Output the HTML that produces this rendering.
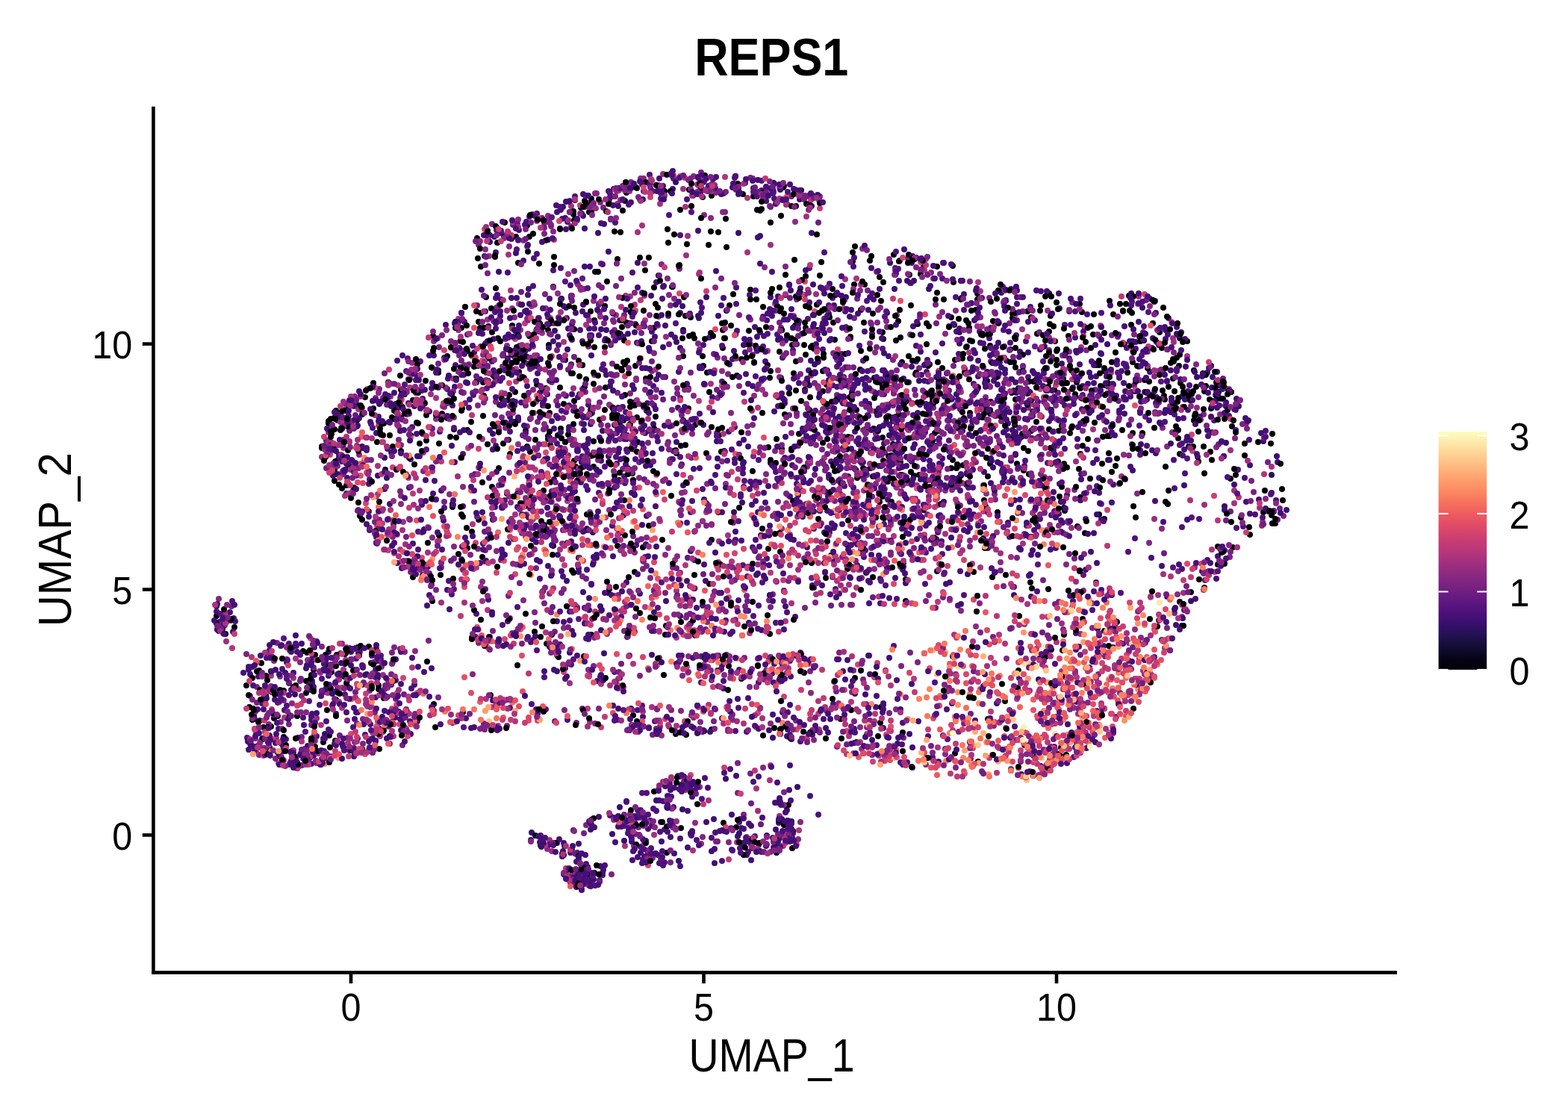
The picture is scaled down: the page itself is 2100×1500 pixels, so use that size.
<!DOCTYPE html>
<html><head><meta charset="utf-8"><title>REPS1</title>
<style>html,body{margin:0;padding:0;background:#fff;}svg{display:block;}</style>
</head><body>
<svg width="2100" height="1500" viewBox="0 0 2100 1500">
<defs><linearGradient id="cb" x1="0" y1="1" x2="0" y2="0"><stop offset="0.000" stop-color="#000004"/><stop offset="0.050" stop-color="#06051a"/><stop offset="0.100" stop-color="#140e36"/><stop offset="0.150" stop-color="#251255"/><stop offset="0.200" stop-color="#3b0f70"/><stop offset="0.250" stop-color="#51127c"/><stop offset="0.300" stop-color="#641a80"/><stop offset="0.350" stop-color="#782281"/><stop offset="0.400" stop-color="#8c2981"/><stop offset="0.450" stop-color="#a1307e"/><stop offset="0.500" stop-color="#b73779"/><stop offset="0.550" stop-color="#ca3e72"/><stop offset="0.600" stop-color="#de4968"/><stop offset="0.650" stop-color="#ed5a5f"/><stop offset="0.700" stop-color="#f7705c"/><stop offset="0.750" stop-color="#fc8961"/><stop offset="0.800" stop-color="#fe9f6d"/><stop offset="0.850" stop-color="#feb77e"/><stop offset="0.900" stop-color="#fecf92"/><stop offset="0.950" stop-color="#fde7a9"/><stop offset="1.000" stop-color="#fcfdbf"/></linearGradient></defs>
<rect width="2100" height="1500" fill="#fff"/>
<g fill="none" stroke-width="8" stroke-linecap="round">
<path stroke="#400f74" d="M764 640h0M665 502h0M454 609h0M507 558h0M1039 651h0M1295 598h0M1048 891h0M1220 568h0M1050 792h0M969 922h0M1177 660h0M480 875h0M958 740h0M680 482h0M787 1161h0M738 771h0M301 837h0M1117 707h0M1264 352h0M1104 393h0M839 1073h0M1043 644h0M734 321h0M988 936h0M916 1050h0M1295 464h0M1090 787h0M1528 538h0M871 258h0M747 451h0M1723 683h0M1653 649h0M721 532h0M1292 494h0M953 647h0M437 927h0M838 256h0M1183 975h0M1315 542h0M714 857h0M766 528h0M901 253h0M691 339h0M1087 312h0M568 709h0M1238 875h0M1361 526h0M685 320h0M1149 589h0M875 568h0M599 521h0M812 502h0M647 728h0M1165 981h0M1628 529h0M430 1024h0M1051 613h0M711 1125h0M486 894h0M387 915h0M703 471h0M902 604h0M754 625h0M768 850h0M1074 639h0M1399 652h0M1046 506h0M1071 267h0M566 581h0M559 966h0M1190 504h0M1238 510h0M1167 743h0M775 761h0M1337 459h0M1164 878h0M653 457h0M763 874h0M529 961h0M450 956h0M1184 641h0M1015 768h0M695 308h0M411 891h0M1353 988h0M1516 886h0M1304 689h0M450 998h0M791 1111h0M602 816h0M1228 722h0M705 416h0M1236 601h0M442 895h0M474 540h0M691 444h0M857 267h0M1128 538h0M468 1005h0M685 399h0M774 1169h0M1118 704h0M803 1179h0M1203 594h0M1058 944h0M1341 392h0M683 558h0M384 887h0M1351 444h0M1346 527h0M1375 581h0M1088 784h0M1106 625h0M1674 623h0M1045 1122h0M1310 504h0M1015 686h0M1067 461h0M1155 508h0M496 947h0M524 917h0M1025 903h0M858 1142h0M1381 799h0M880 983h0M369 994h0M713 669h0M977 488h0M1338 531h0M783 277h0M763 664h0M681 727h0M1143 506h0M1548 419h0M1540 498h0M1052 585h0M1646 557h0M839 780h0M1368 1037h0M1711 619h0M1221 491h0M527 702h0"/>
<path stroke="#762181" d="M845 244h0M747 870h0M1085 899h0M834 628h0M779 567h0M1508 488h0M540 973h0M836 1095h0M1271 921h0M913 556h0M729 305h0M885 259h0M782 1116h0M847 629h0M1167 734h0M1224 734h0M644 464h0M1343 520h0M1596 528h0M1156 910h0M1012 261h0M708 588h0M890 262h0M751 657h0M1107 952h0M1371 980h0M1326 588h0M1185 606h0M1495 960h0M808 278h0M1468 908h0M857 1095h0M365 926h0M598 705h0M591 753h0M1379 1033h0M1116 742h0M1077 267h0M1107 749h0M1057 556h0M958 654h0M304 832h0M916 1047h0M940 846h0M1232 708h0M1315 1033h0M1235 611h0M1520 458h0M1257 566h0M1144 966h0M1542 904h0M335 932h0M1402 543h0M347 1011h0M1097 676h0M693 623h0M539 998h0M1418 806h0M508 521h0M1045 886h0M518 965h0M760 637h0M1259 626h0M1083 262h0M482 873h0M310 812h0M966 373h0M922 1051h0"/>
<path stroke="#000004" d="M1322 510h0M1323 963h0M1159 575h0M1052 368h0M1276 879h0M706 657h0M612 433h0M572 886h0M1336 686h0M1255 765h0M1383 697h0M1510 499h0M1445 628h0M710 605h0M608 575h0M1474 517h0M1599 563h0M669 542h0M356 931h0M1182 445h0M694 480h0M1447 666h0M1466 487h0M388 958h0M606 675h0M1047 442h0M1307 415h0M1456 546h0M741 384h0M1036 245h0M915 442h0M825 786h0M1413 457h0M876 574h0M1571 507h0M1171 506h0M1302 866h0M339 949h0M1158 381h0M833 496h0M1418 577h0M514 935h0M1530 580h0M569 540h0M686 436h0M618 439h0M1365 825h0M666 306h0M1363 921h0M963 583h0M367 962h0M460 1001h0M626 470h0M1208 537h0M620 458h0M1057 520h0M1436 571h0M1516 419h0M1517 580h0M500 547h0M690 525h0M1079 439h0M968 466h0M946 607h0M706 302h0M558 566h0M1022 411h0M703 678h0M993 909h0M1266 510h0M691 317h0M646 646h0M839 258h0M1564 675h0M827 731h0M824 817h0M1034 387h0M592 554h0M732 862h0M555 622h0M1309 521h0M1169 638h0M1540 829h0M796 465h0M752 400h0M1464 448h0M1532 456h0M755 1145h0M1302 457h0M1329 773h0M792 266h0M1249 539h0M626 734h0M1621 605h0M792 284h0M659 652h0M1173 693h0M1040 1142h0M638 512h0M845 949h0M926 276h0M1708 701h0M1472 489h0M923 254h0M602 561h0M988 246h0M485 1003h0M438 1011h0M632 712h0M1539 511h0M444 900h0M1196 564h0M1184 723h0M1244 437h0M1369 581h0M1135 762h0M639 319h0M869 345h0M709 450h0M1135 730h0M775 483h0M1153 415h0M632 854h0M1384 574h0M694 561h0M1102 524h0M433 994h0M439 891h0M1316 559h0M1326 621h0M1118 455h0M722 353h0M724 1132h0M1095 442h0M1113 744h0M644 419h0M1173 551h0M553 536h0M374 1013h0M1047 601h0M1318 670h0M505 592h0M1108 588h0M952 446h0M1479 497h0M1706 685h0M1450 829h0M922 547h0M562 594h0M1281 510h0M735 462h0M441 985h0M970 453h0M862 416h0M890 256h0M1168 495h0M953 262h0M1519 470h0M565 579h0M485 696h0M789 272h0M554 764h0M1061 462h0M845 252h0M468 624h0M1288 399h0M340 959h0M1356 586h0M1435 573h0M990 680h0M1039 1134h0M766 764h0M1581 513h0M1243 490h0M915 477h0M675 316h0M1128 566h0M1107 515h0M835 426h0M682 529h0M786 262h0M1674 716h0M442 630h0M1066 484h0M1368 585h0M847 634h0M1183 454h0M1330 430h0M1181 511h0M853 252h0M953 723h0M1423 871h0M1565 518h0M1715 621h0M559 538h0M1404 789h0M737 596h0M1371 630h0M842 843h0M882 369h0M460 594h0M1196 641h0M550 583h0M449 992h0M1491 421h0M1180 624h0M823 569h0M1355 526h0M1181 753h0M1157 432h0M699 677h0M1546 573h0M1651 733h0M1415 470h0M398 959h0M1008 806h0M1580 475h0M522 542h0M466 920h0M1145 908h0M876 385h0M350 888h0M1276 616h0M1144 381h0M1251 647h0M831 311h0M508 1003h0M410 912h0M571 590h0M812 283h0M1056 1078h0M363 973h0M1496 833h0M1151 761h0M1145 681h0M450 959h0M1527 531h0M889 904h0M477 541h0M1405 575h0M556 969h0M769 441h0M985 448h0"/>
<path stroke="#56147d" d="M1438 1014h0M687 301h0M1113 618h0M313 828h0M608 789h0M1080 675h0M818 462h0M1423 538h0M546 480h0M534 546h0M989 698h0M808 488h0M1121 491h0M902 239h0M1182 467h0M1020 242h0M760 1176h0M931 1058h0M1352 719h0M775 829h0M987 763h0M1450 534h0"/>
<path stroke="#f56b5c" d="M1427 809h0M1268 906h0M507 679h0"/>
<path stroke="#a5317e" d="M947 253h0M1438 499h0M1096 518h0M770 810h0M835 920h0M442 920h0M1028 470h0M1590 477h0M506 624h0M936 844h0M517 935h0M906 791h0M1104 613h0M1080 290h0M1164 968h0M832 818h0M1274 709h0M978 660h0M1092 738h0M472 658h0M1452 437h0M994 629h0M765 276h0M1124 481h0M1331 654h0M436 927h0M506 662h0M1560 868h0M641 626h0M1292 499h0M1367 510h0M1402 710h0M1551 497h0M490 937h0M1517 470h0M511 963h0"/>
<path stroke="#331067" d="M435 983h0M794 713h0"/>
<path stroke="#4e117b" d="M752 550h0M1325 453h0M1535 901h0M402 877h0M398 1021h0M636 635h0M1212 640h0M1672 563h0M995 757h0M1271 563h0M816 267h0M729 907h0M826 580h0M595 680h0M978 849h0M933 1125h0M767 712h0M557 526h0M664 399h0M703 301h0M1021 780h0M620 608h0M1044 884h0M825 612h0M1365 908h0M788 611h0M1475 419h0M1347 403h0M1201 569h0M1412 1000h0M1082 571h0M1159 737h0M757 895h0M691 706h0M1407 736h0M941 811h0M1262 373h0M938 259h0M443 980h0M1062 469h0M736 400h0M691 664h0M311 805h0M753 293h0M967 463h0M887 1156h0M882 794h0M941 655h0M996 652h0M1385 710h0M1312 444h0M1289 376h0M785 405h0M1393 695h0M1054 820h0M1489 516h0M834 584h0M1082 622h0M839 602h0M987 443h0M872 1136h0M550 615h0M937 895h0M510 883h0M911 1123h0M1681 689h0M861 1151h0M1164 509h0M646 447h0M1139 774h0M847 424h0M846 971h0M763 694h0M448 996h0M851 615h0M1475 696h0M552 572h0M499 573h0M379 999h0M751 650h0M1110 420h0M1042 1139h0M1020 255h0M981 1139h0M996 526h0M570 762h0M1521 467h0M1284 624h0M1070 430h0M1482 497h0M1010 486h0M471 568h0M1591 524h0M739 872h0M545 953h0M795 606h0M757 909h0M1249 1014h0M1297 653h0M1262 460h0M1062 1116h0M905 433h0"/>
<path stroke="#e55064" d="M1153 763h0M1086 724h0M1238 1008h0M1404 866h0M534 555h0M985 608h0M1124 533h0M1396 935h0M1484 927h0M677 938h0M598 710h0M873 723h0M1055 663h0M1049 887h0"/>
<path stroke="#7c2382" d="M935 460h0M1424 714h0M1227 561h0M1447 1008h0M981 957h0M1250 373h0M1526 882h0M943 243h0M1341 564h0M859 566h0M1207 658h0M998 812h0M1537 471h0M1447 997h0M1567 544h0M1395 988h0M1188 684h0M773 379h0M736 499h0M1017 606h0M924 785h0M1134 757h0M682 633h0M1196 482h0M1242 689h0M850 846h0M1647 746h0M1439 656h0M513 533h0M1200 620h0M1395 574h0M1124 874h0M408 1003h0M1612 555h0M844 527h0M1461 933h0M911 684h0M733 296h0M1147 630h0M904 583h0M519 921h0M641 328h0M640 735h0M522 996h0M1097 268h0M740 870h0M873 497h0M789 904h0M1148 677h0M1125 628h0M1444 949h0M742 724h0M706 427h0M782 1170h0M850 627h0M1083 590h0M854 724h0M1455 660h0M1352 433h0M1164 659h0M1407 1000h0M1078 262h0M1026 898h0M581 952h0M1277 709h0M1281 652h0M1279 507h0M1222 668h0M1165 460h0M741 693h0M1493 838h0M799 636h0M1555 495h0M1314 698h0M1038 604h0M1455 469h0M809 531h0M496 990h0M1044 505h0M1007 896h0M996 1134h0M1552 539h0M828 797h0"/>
<path stroke="#471078" d="M751 600h0M558 581h0M1547 671h0M1233 448h0M332 993h0M346 906h0M1419 648h0M1036 914h0M699 675h0M1083 647h0M957 949h0M886 526h0M1440 452h0M783 814h0M489 984h0M1314 576h0M1639 611h0M861 972h0M333 1004h0M762 572h0M1083 496h0M1173 947h0M437 590h0M355 930h0M1020 844h0M1424 923h0M850 1093h0M791 568h0M1354 675h0M868 1110h0M1058 1025h0M1222 1028h0M419 863h0M720 956h0M1277 434h0M1030 882h0M1002 935h0M591 657h0M1339 551h0M1246 383h0M1183 649h0M788 588h0M1703 660h0M1252 373h0M418 912h0M943 756h0M1543 466h0M909 498h0M993 724h0M308 820h0M1589 590h0M1514 531h0M1245 542h0M847 1152h0M1058 1118h0M1254 722h0M852 730h0M980 1091h0M291 843h0M1195 610h0M807 1172h0M1339 485h0M1626 563h0M808 1165h0M496 548h0M801 685h0M1576 438h0M314 810h0M1315 399h0M764 382h0M1442 940h0M1021 1095h0M1362 389h0M551 764h0M858 1134h0M747 613h0M691 847h0M1046 640h0M550 983h0M1058 247h0M503 934h0M1591 549h0M550 754h0M1306 965h0M879 378h0M1567 871h0M908 546h0M1061 1123h0M586 617h0M1617 499h0M1506 437h0M547 508h0M1227 463h0M1217 715h0M534 953h0M749 1124h0M1638 518h0M1451 444h0M1026 269h0M876 543h0M703 417h0M1083 573h0M1169 692h0M901 229h0M1148 729h0M1345 464h0M873 800h0M830 908h0M792 1104h0M1106 560h0M1274 535h0M677 566h0M475 963h0M1067 648h0M1061 1122h0M746 635h0M875 577h0M1536 535h0M1002 514h0M1055 977h0M1076 642h0M1621 754h0M1058 665h0M1113 454h0M481 524h0M464 954h0M361 871h0M976 725h0M1249 546h0M1447 434h0M832 1107h0M829 601h0M556 501h0M1042 532h0M680 365h0M695 436h0M838 622h0M986 385h0M1502 497h0M815 649h0M1049 768h0M566 770h0M928 824h0M609 469h0M920 267h0M1456 602h0M592 736h0M785 1182h0M1177 624h0M326 901h0M1467 462h0M1408 690h0M1393 505h0M1300 480h0M967 686h0M637 853h0M824 1128h0M775 598h0M768 550h0M670 430h0M938 405h0M481 871h0M1000 980h0M1027 748h0M707 395h0M950 452h0M452 563h0M1305 527h0M1411 603h0M1163 778h0M846 660h0M792 450h0M1454 763h0M981 481h0M1053 1117h0M811 426h0M775 766h0"/>
<path stroke="#c03a76" d="M700 746h0M1295 500h0M1119 745h0M1142 676h0M1627 766h0M1044 913h0M512 701h0M690 454h0M1524 871h0M1486 788h0M666 943h0M1474 544h0M797 522h0M507 570h0M1282 913h0M532 716h0M1398 928h0M548 938h0M1036 258h0M1386 805h0M385 865h0M705 715h0M1489 956h0M1438 930h0M1039 746h0M797 819h0M1252 679h0M810 960h0M506 966h0"/>
<path stroke="#d3436e" d="M1509 877h0M827 917h0M706 625h0M502 519h0M545 741h0M1364 887h0M601 717h0M1221 725h0M915 850h0M690 769h0M1523 828h0M1482 504h0M1546 843h0M1400 1033h0M879 636h0M1479 873h0M1429 1003h0M1196 576h0M1124 682h0M488 617h0M1493 924h0M1200 652h0"/>
<path stroke="#d9466b" d="M1561 816h0M565 747h0M1308 692h0M532 565h0M438 602h0M1435 775h0M538 535h0M1329 910h0M676 856h0M1409 1025h0M755 701h0M1257 864h0M1415 597h0M491 633h0M1335 786h0M868 1159h0M1494 963h0M1134 979h0M911 236h0M873 801h0M1219 739h0M1301 1000h0"/>
<path stroke="#fec185" d="M655 966h0"/>
<path stroke="#e04c67" d="M695 946h0M1518 855h0M1091 417h0M525 949h0M973 743h0M700 926h0M1250 962h0M1391 993h0M542 974h0M1493 845h0M1205 736h0M632 477h0M921 841h0M631 928h0"/>
<path stroke="#892881" d="M740 704h0M769 712h0M1067 557h0M1240 1024h0M937 1054h0M700 477h0M511 893h0M1583 826h0M618 469h0M939 1130h0M663 511h0M643 323h0M1141 810h0M523 514h0M1235 637h0M699 714h0M1045 907h0M1266 1010h0M1415 561h0M758 664h0M1251 728h0M724 709h0M903 511h0M731 413h0M1086 928h0M1182 524h0M929 236h0M733 1137h0M1191 761h0M953 911h0M803 520h0M1121 482h0M858 239h0"/>
<path stroke="#390f6e" d="M712 1115h0M385 905h0M1383 497h0M1323 734h0M1075 692h0M1710 611h0M1159 516h0M767 660h0M1156 639h0M988 1120h0M838 415h0M1264 672h0M1202 538h0M759 426h0M1210 507h0M1442 472h0M1391 910h0M972 1043h0M676 490h0M990 1116h0M702 506h0M1358 797h0M687 451h0M888 465h0M414 887h0M1653 548h0M915 650h0M742 642h0M1178 572h0M710 561h0M1104 446h0M1530 412h0M943 881h0M1483 461h0M792 565h0M713 722h0M359 1002h0M1202 996h0M1410 668h0"/>
<path stroke="#902a81" d="M745 537h0M1085 620h0M1321 661h0M1603 546h0M1222 682h0M844 1090h0M704 719h0M1080 541h0M791 611h0M523 531h0M825 422h0M1438 948h0"/>
<path stroke="#b2357b" d="M833 737h0M1290 606h0M653 817h0M1335 1035h0M337 880h0M1143 1009h0M555 750h0M1380 526h0M1349 626h0M1177 799h0M1454 981h0M1038 407h0M507 983h0M954 884h0M1192 510h0M1099 794h0M1052 832h0M1234 750h0M1070 1112h0"/>
<path stroke="#9e2f7f" d="M917 659h0M899 1041h0M1452 914h0M646 805h0M831 737h0M912 550h0M904 750h0M1691 699h0M1671 617h0M429 901h0M1185 749h0M1032 328h0M1657 733h0M1440 934h0M1286 521h0M718 538h0M1425 496h0M1092 658h0M1584 545h0M504 868h0M742 321h0M1193 703h0M714 464h0M1127 946h0M726 446h0M598 718h0M564 542h0M1228 650h0M1143 797h0M793 565h0M1053 674h0M696 700h0M613 638h0M808 744h0M360 973h0M1047 708h0"/>
<path stroke="#832681" d="M1432 471h0M451 617h0M849 1133h0M649 752h0M1161 636h0M677 454h0M711 560h0M1396 579h0M647 475h0M862 239h0M1258 652h0M1629 599h0M1115 773h0M1457 941h0M1086 443h0M1546 504h0M461 906h0M668 650h0M681 312h0M1515 562h0M597 519h0M846 633h0M804 271h0M1165 965h0M363 919h0M1152 618h0M1213 934h0M376 967h0M1191 601h0M1236 701h0M1002 759h0M1084 563h0M675 537h0M640 543h0M1278 564h0M849 602h0M601 536h0M1201 422h0M466 988h0M362 924h0M1280 416h0M947 648h0M780 521h0M755 789h0M1500 928h0M990 609h0M1110 558h0M1262 418h0M1333 487h0M848 732h0M896 395h0M876 790h0M1098 642h0M1217 647h0M1332 662h0M1213 707h0M342 989h0M293 802h0M1416 500h0M1299 724h0"/>
<path stroke="#f9795d" d="M1498 901h0M1299 930h0M1454 895h0M1448 958h0M735 708h0M1485 910h0M1490 922h0M1424 964h0"/>
<path stroke="#6e1e81" d="M836 580h0M704 543h0M1143 492h0M1420 534h0M648 969h0M951 883h0M1358 919h0M359 1010h0M986 254h0M795 273h0M541 930h0M1386 464h0M1365 499h0M1118 570h0M788 1173h0M883 369h0M907 797h0M639 409h0M1283 730h0M1096 484h0M958 950h0M741 433h0M876 792h0M508 976h0M803 1181h0M1020 717h0M1378 719h0M1159 588h0M1497 451h0"/>
<path stroke="#982d80" d="M1396 890h0M888 233h0M456 565h0M1137 757h0M1447 849h0M1068 692h0M525 951h0M1043 878h0M1571 453h0M1161 507h0M1432 493h0M963 725h0M776 597h0M1132 569h0M729 535h0"/>
<path stroke="#681c81" d="M1019 1104h0M1416 829h0M1177 610h0M1443 598h0M740 813h0M1141 759h0M945 843h0M1463 534h0M1417 526h0M703 619h0M649 712h0M1563 511h0"/>
<path stroke="#ab337c" d="M1297 976h0M544 976h0M845 794h0M441 1013h0M1276 546h0M842 1108h0M1193 979h0M668 409h0M1082 388h0M720 639h0M1520 909h0M861 603h0M694 322h0M534 955h0M391 1016h0M944 906h0M691 511h0M712 742h0M1137 986h0M664 976h0M1097 977h0M814 284h0M1257 676h0M588 724h0M753 749h0M460 630h0M1065 254h0M355 874h0M705 689h0M1321 570h0M848 643h0M1313 760h0"/>
<path stroke="#fec88c" d="M1357 964h0M1411 1003h0"/>
<path stroke="#cd4071" d="M1184 1011h0M1396 1033h0M835 815h0M1375 982h0M878 785h0M1106 732h0M924 811h0"/>
<path stroke="#ee5b5e" d="M1177 1009h0M1276 503h0M888 659h0M1397 674h0M631 657h0M734 714h0M1427 960h0M921 901h0"/>
<path stroke="#ea5661" d="M708 535h0M1418 950h0M807 671h0M1464 983h0M1463 980h0M921 713h0M484 585h0M1403 955h0M1480 988h0M1150 1014h0M1272 889h0M861 682h0M1402 914h0M764 645h0M762 682h0M1446 838h0M1541 800h0M1430 820h0M997 790h0M868 895h0M726 702h0"/>
<path stroke="#fc8961" d="M1524 923h0M1167 943h0M899 886h0M1395 710h0M1527 911h0M1433 874h0M1438 839h0M1402 1032h0M878 768h0M1272 894h0M997 826h0M1531 824h0M1192 1005h0"/>
<path stroke="#c73d73" d="M526 626h0M416 855h0M1064 774h0M983 693h0M1432 921h0M947 816h0M1373 922h0M1093 742h0M756 757h0M442 609h0M1105 747h0M1508 952h0M930 844h0M1126 767h0M962 774h0M505 704h0M520 737h0M1436 813h0M1597 604h0M724 665h0"/>
<path stroke="#ba3878" d="M836 819h0M1204 730h0M1224 909h0M921 551h0M1459 974h0M1247 658h0M1403 994h0M1032 767h0M1126 648h0M1258 755h0M1339 699h0M632 556h0M1131 768h0M1086 554h0M903 783h0M988 773h0M521 973h0M504 665h0M1365 545h0"/>
<path stroke="#fa815f" d="M1445 1007h0M879 799h0M1267 1019h0M923 800h0"/>
<path stroke="#621980" d="M1534 558h0"/>
<path stroke="#f7725c" d="M1283 677h0M1410 925h0M1387 892h0M596 953h0M1280 1020h0M1040 652h0M1364 1029h0M1328 902h0"/>
<path stroke="#f2625d" d="M1355 956h0M1302 892h0M555 966h0M604 466h0M700 840h0M1023 774h0M1427 919h0"/>
<path stroke="#fea973" d="M1306 980h0M1514 814h0"/>
<path stroke="#fd9a6a" d="M478 901h0M1449 960h0M931 788h0M1019 688h0M1359 659h0"/>
<path stroke="#fd9266" d="M1055 710h0M1321 994h0M1377 909h0M1562 865h0"/>
<path stroke="#feb078" d="M689 638h0M1266 873h0M1249 871h0"/>
<path stroke="#fecf92" d="M1412 1016h0"/>
<path stroke="#fea16e" d="M1457 990h0M492 956h0"/>
<path stroke="#fde0a1" d="M1413 983h0"/>
<path stroke="#fde7a9" d="M1400 866h0"/>
<path stroke="#5c167f" d="M563 484h0"/>
<path stroke="#9e2f7f" d="M721 610h0M1422 899h0M829 694h0M593 544h0M1355 986h0M1338 557h0M1354 746h0M337 998h0M1335 713h0M644 786h0M759 618h0M1132 374h0M987 1128h0M953 703h0M1134 442h0M1379 925h0M861 751h0M746 878h0M711 717h0M1133 541h0M911 767h0M358 926h0M1357 954h0M1648 603h0M669 670h0M1525 397h0M439 928h0M675 676h0M1264 508h0M1185 1013h0M915 253h0M593 558h0"/>
<path stroke="#000004" d="M1401 477h0M689 566h0M1568 486h0M1225 347h0M941 806h0M381 1006h0M417 904h0M664 386h0M1718 670h0M1360 609h0M626 576h0M449 558h0M1088 262h0M1005 1124h0M918 423h0M1264 401h0M763 589h0M1385 1013h0M1457 588h0M1412 522h0M553 773h0M1480 516h0M962 686h0M952 310h0M1233 367h0M450 937h0M1087 587h0M775 747h0M1500 407h0M1045 977h0M702 485h0M1089 563h0M934 1077h0M886 1156h0M1146 661h0M1044 714h0M1110 423h0M1077 462h0M1142 350h0M1005 388h0M1182 601h0M1091 665h0M1050 249h0M380 925h0M1063 500h0M485 917h0M431 598h0M1477 545h0M1079 370h0M1250 641h0M611 586h0M1364 898h0M1377 604h0M969 1102h0M852 1131h0M536 541h0M358 911h0M931 569h0M560 526h0M648 530h0M1561 625h0M478 563h0M676 317h0M734 486h0M1145 628h0M1127 587h0M490 965h0M1257 577h0M746 433h0M580 450h0M876 439h0M1649 525h0M970 604h0M892 838h0M816 789h0M520 512h0M1378 635h0M1255 392h0M1237 683h0M507 918h0M1032 620h0M1292 499h0M1251 568h0M918 596h0M1090 467h0M767 500h0M1267 523h0M466 558h0M1147 994h0M1206 619h0M1580 608h0M810 465h0M707 337h0M835 563h0M1341 558h0M448 597h0M880 634h0M1324 986h0M1149 638h0M789 284h0M701 464h0M694 352h0M483 548h0M1648 641h0M1640 755h0M848 958h0M984 725h0M1633 510h0M1355 508h0M1486 584h0M1301 571h0M728 657h0M1279 1009h0M1479 563h0M467 624h0M508 672h0M500 513h0M356 933h0M791 549h0M1018 1140h0M479 867h0M1572 484h0M1195 760h0M827 347h0M1231 636h0M778 278h0M1405 393h0M822 555h0M1416 468h0M1245 652h0M1468 489h0M620 692h0M1560 535h0M1156 731h0M641 431h0M1015 891h0M823 263h0M422 877h0M1585 838h0M912 1109h0M837 717h0M1137 756h0M420 897h0M727 792h0M1197 341h0M1404 518h0M1458 548h0M1073 255h0M653 595h0M1327 538h0M680 536h0M568 539h0M1252 580h0M1050 1115h0M1530 581h0M1152 495h0M771 625h0M1441 652h0M1108 725h0M717 589h0M719 515h0M695 498h0M1544 433h0M1094 408h0M440 564h0M314 840h0M1277 378h0M1613 524h0M679 661h0M1460 864h0M1251 720h0M1592 598h0M681 589h0M531 552h0M1703 690h0M755 541h0M1408 621h0M1578 587h0M811 519h0M1421 672h0M1326 447h0M1320 509h0M527 544h0M1448 533h0M668 627h0M683 608h0M1102 497h0M1512 396h0M1446 407h0M1010 485h0M431 600h0M1472 689h0M454 902h0M953 977h0M1360 466h0M442 1001h0M920 1044h0M1506 461h0M1308 819h0M796 429h0M608 534h0M865 244h0M1173 511h0M795 591h0M676 298h0M1116 624h0M993 481h0M848 643h0M1041 410h0M742 344h0M884 376h0M1309 401h0M1521 693h0M905 983h0M620 954h0M698 480h0M783 518h0M444 631h0M1180 513h0M1685 592h0M1575 546h0M1364 1027h0M1421 1001h0M1175 512h0M1301 934h0M1443 705h0M835 485h0M1191 640h0M1104 427h0M843 433h0M1081 510h0M1091 576h0M537 604h0M955 450h0M1382 788h0M829 643h0M474 653h0M1065 455h0M989 252h0M1600 557h0M1440 528h0M1165 349h0M1580 453h0"/>
<path stroke="#4e117b" d="M796 440h0M1619 770h0M998 245h0M873 1106h0M302 829h0M1180 508h0M670 508h0M827 964h0M848 647h0M865 1126h0M1266 598h0M709 643h0M836 638h0M1291 797h0M880 949h0M1388 542h0M661 496h0M1191 569h0M1526 451h0M1168 447h0M910 238h0M1020 1141h0M692 334h0M913 622h0M1319 513h0M1011 1120h0M566 544h0M1309 518h0M1108 496h0M733 528h0M1583 594h0M1247 563h0M666 978h0M1012 645h0M1504 862h0M1243 678h0M1284 474h0M387 862h0M1255 570h0M1390 538h0M1199 359h0M1259 647h0M1155 595h0M1034 255h0M981 846h0M1130 585h0M765 678h0M932 259h0M1160 633h0M1214 639h0M406 961h0M1150 587h0M980 1138h0M507 538h0M1058 1127h0M1446 504h0M1072 874h0M1405 1021h0M715 707h0M1186 784h0M942 462h0M522 542h0M504 870h0M404 1025h0M1110 501h0M970 1113h0M871 1099h0M648 315h0M1656 707h0M1509 466h0M1243 511h0M1283 811h0M372 941h0M745 509h0M763 449h0M768 658h0M1583 706h0M927 671h0M1389 544h0M810 625h0M727 413h0M995 634h0M1039 632h0M557 509h0"/>
<path stroke="#471078" d="M1093 978h0M396 862h0M1354 617h0M670 423h0M777 1184h0M1472 660h0M1237 629h0M420 1012h0M1400 655h0M1016 1040h0M1012 671h0M1450 517h0M840 560h0M1184 528h0M1015 241h0M1033 422h0M711 860h0M489 904h0M1525 491h0M880 585h0M1617 750h0M1431 991h0M1076 646h0M949 249h0M620 526h0M565 753h0M1316 542h0M755 410h0M1051 909h0M1344 635h0M1669 672h0M1159 580h0M1330 718h0M1133 714h0M629 579h0M1380 411h0M1032 398h0M1549 532h0M582 644h0M746 594h0M999 501h0M863 1100h0M789 1186h0M1291 539h0M927 1067h0M1279 693h0M407 1008h0M1156 619h0M680 832h0M1479 949h0M851 1103h0M1432 417h0M1151 463h0M1003 1103h0M1234 573h0M1015 842h0M796 1108h0M1206 700h0M608 466h0M1257 512h0M1302 584h0M842 1113h0M565 676h0M682 699h0M815 256h0M1090 585h0M765 1173h0M985 253h0M703 690h0M1468 780h0M720 500h0M1025 484h0M985 723h0M805 617h0M454 613h0M760 964h0M1029 910h0M496 970h0M1078 576h0M1343 479h0M1457 535h0M977 772h0M802 1094h0M731 636h0M957 1137h0M781 408h0M1128 383h0M569 522h0M656 315h0M1182 954h0M879 1086h0M626 448h0M797 432h0M1573 555h0M1199 648h0M635 472h0M1644 521h0M783 1175h0M1092 972h0M868 1142h0M1122 575h0M1057 1058h0M631 975h0M791 1173h0M633 718h0M418 882h0M299 848h0M719 286h0M1207 742h0M368 937h0M1241 498h0M827 574h0M1143 357h0M1174 998h0M854 1148h0M1548 540h0M916 1040h0M1285 440h0M765 725h0M560 761h0M1433 798h0M1097 454h0M1090 708h0M831 615h0M1170 401h0M1229 553h0M530 911h0M1374 457h0M762 543h0M1227 484h0M713 492h0M831 576h0M1601 802h0M424 986h0M1157 746h0M597 435h0M1533 525h0M1018 353h0M1058 688h0M718 950h0M966 808h0M1063 253h0M1491 649h0M1178 444h0M1582 445h0M1390 502h0M1054 453h0M1052 456h0M903 1055h0M810 1159h0M1190 477h0M568 900h0M1111 380h0M421 904h0M1359 670h0M1041 1048h0M391 1006h0M1607 558h0M1221 352h0M1104 713h0M933 814h0M1378 771h0M355 938h0M1326 616h0M572 811h0M992 665h0M822 253h0M1674 688h0M656 853h0M1695 577h0M1078 513h0M845 560h0M701 349h0M1284 640h0M1058 984h0M719 484h0M609 518h0M909 887h0M1022 424h0M377 864h0"/>
<path stroke="#56147d" d="M1234 346h0M1127 474h0M1271 590h0M823 900h0M1147 591h0M958 879h0M1127 617h0M1186 503h0M1133 438h0M864 608h0M863 437h0M1403 620h0M1197 865h0M1087 574h0M723 660h0M676 494h0M331 988h0M1538 418h0M731 950h0M932 561h0M1343 384h0M1590 614h0M817 259h0M758 709h0M1596 693h0M1082 427h0M578 783h0"/>
<path stroke="#400f74" d="M1354 387h0M1486 616h0M1184 473h0M849 521h0M1326 476h0M1361 384h0M1491 515h0M709 290h0M1323 502h0M1432 480h0M1184 594h0M1294 649h0M861 960h0M670 312h0M1630 546h0M1335 942h0M1257 1020h0M1303 492h0M1207 532h0M1165 398h0M722 293h0M1517 630h0M1146 1009h0M1227 345h0M1318 632h0M336 998h0M312 829h0M1179 775h0M1470 842h0M1212 768h0M1418 688h0M464 661h0M788 542h0M559 745h0M1070 688h0M922 520h0M1244 387h0M1065 826h0M1568 496h0M1527 531h0M755 1129h0M609 619h0M1191 881h0M1053 1113h0M931 849h0M433 989h0M412 999h0M837 647h0M1272 574h0M1204 535h0M824 724h0M1211 556h0M1499 550h0M555 917h0M1233 471h0M969 259h0M1181 453h0M1119 561h0M443 573h0M843 978h0M1102 433h0M1025 471h0M485 598h0M1543 603h0M789 801h0M1399 464h0M1455 561h0M927 1113h0M1333 557h0M937 493h0M615 466h0M1556 857h0M800 912h0M1117 409h0M782 568h0M1182 693h0M1262 614h0M706 478h0M1199 368h0M781 289h0M867 540h0M418 915h0M1466 658h0M1060 990h0M901 384h0M1560 438h0M1590 482h0M294 833h0M873 444h0M1134 560h0M676 677h0M643 621h0M772 1180h0M1037 246h0M1054 986h0M1124 683h0M1116 739h0M1301 406h0M434 889h0M1382 587h0M1503 545h0M1119 789h0M911 466h0M1610 765h0M605 597h0M1014 451h0M758 307h0M335 903h0M1414 734h0M1230 966h0M1689 580h0M1601 568h0M1574 814h0M1377 472h0M1271 1017h0M1425 563h0M468 619h0M1199 582h0M724 1119h0M865 624h0M939 255h0M1230 577h0M299 826h0M332 991h0M766 1166h0M1056 519h0M1482 504h0M345 999h0M853 459h0M894 1066h0M899 448h0M807 1169h0M870 494h0M928 1061h0M1430 932h0M465 640h0M1429 1022h0M1112 963h0M1075 574h0M396 851h0"/>
<path stroke="#762181" d="M1300 572h0M674 474h0M618 483h0M1120 592h0M1250 546h0M1229 672h0M947 256h0M1484 518h0M524 717h0M1258 656h0M734 689h0M1466 984h0M836 1100h0M1033 439h0M1047 596h0M838 644h0M1196 543h0M1334 485h0M1416 1019h0M1216 575h0M1398 1004h0M524 903h0M1509 492h0M818 501h0M1146 660h0M1217 536h0M742 589h0M1485 583h0M1144 627h0M1120 926h0M1174 465h0M1397 777h0M1067 553h0M769 698h0M387 970h0M1066 965h0M737 688h0M1243 657h0M1513 894h0M555 960h0M1057 614h0M461 549h0M1209 572h0M1162 389h0M777 709h0M1264 769h0M1060 263h0M1181 609h0M761 1174h0M793 1185h0M948 813h0M709 743h0M650 737h0M743 846h0M1318 550h0M1053 274h0M667 429h0M680 937h0M825 383h0M362 1012h0M1282 674h0M1679 659h0M1277 490h0M1312 501h0M1132 492h0M738 667h0M1041 695h0M836 422h0"/>
<path stroke="#fec185" d="M1415 1019h0M1375 1045h0M1255 903h0"/>
<path stroke="#ea5661" d="M674 961h0M1198 751h0M765 703h0M1358 559h0M483 621h0M1467 933h0M1405 1032h0M1435 990h0M1307 878h0M1238 1017h0M1479 949h0"/>
<path stroke="#7c2382" d="M757 592h0M775 639h0M564 671h0M666 860h0M971 284h0M567 631h0M1424 843h0M823 503h0M1079 555h0M1196 610h0M843 732h0M866 758h0M505 728h0M344 920h0M910 360h0M555 498h0M1572 472h0M894 373h0M887 257h0M1160 943h0M798 728h0M632 637h0M1308 494h0M679 972h0M1008 475h0M678 468h0M1451 974h0M1669 567h0M832 662h0M871 246h0M743 966h0M766 638h0M1042 672h0M1196 584h0M698 680h0M773 295h0M437 610h0M1205 530h0M996 1091h0M880 950h0M706 571h0M1372 715h0M766 633h0M855 1108h0M1608 562h0M1563 841h0M805 569h0M912 690h0M1180 606h0M1299 732h0M820 487h0M1098 981h0M424 962h0M1036 1128h0M1083 392h0M479 684h0M1088 978h0M1168 1011h0M826 353h0M888 644h0M1349 547h0M1141 927h0M1612 768h0M1201 582h0M1460 530h0M1014 521h0M677 573h0M1320 532h0M1408 1015h0M861 762h0M1036 256h0M495 925h0M735 671h0M1149 557h0M728 575h0M920 824h0M802 949h0M608 748h0M403 1009h0M1009 611h0M747 656h0M1483 798h0M412 1022h0M1030 804h0M723 1121h0M651 499h0"/>
<path stroke="#d9466b" d="M1500 943h0M1024 742h0M1012 651h0M380 1018h0M436 942h0M1239 650h0M1067 977h0M864 1105h0M1400 1029h0M1223 747h0M1239 421h0M1296 667h0M1015 955h0M748 603h0M1394 649h0M648 470h0M910 393h0M1013 974h0M996 735h0M1534 911h0"/>
<path stroke="#681c81" d="M754 710h0M1335 584h0M908 1039h0"/>
<path stroke="#902a81" d="M1044 1093h0M604 957h0M1400 508h0M1479 563h0M929 788h0M1010 530h0M1388 716h0M886 985h0M682 665h0M795 403h0M803 418h0M1407 508h0"/>
<path stroke="#832681" d="M738 448h0M1426 820h0M682 330h0M1044 251h0M1155 333h0M1430 914h0M809 604h0M1156 576h0M886 354h0M548 695h0M917 522h0M1205 610h0M732 671h0M850 740h0M1363 628h0M1368 538h0M591 760h0M1428 756h0M1167 596h0M1263 868h0M1352 951h0M586 453h0M1023 910h0M1275 640h0M537 664h0M849 595h0M1244 665h0M1022 1028h0M1045 630h0M823 442h0M410 954h0M1280 903h0M1287 818h0M520 912h0M1331 972h0M1351 646h0M930 712h0M1330 540h0M1302 530h0M1140 691h0M710 479h0M1127 810h0M1313 425h0M468 592h0M924 807h0M1246 563h0M1369 532h0M534 571h0M1262 510h0M883 881h0M1096 734h0M1184 550h0M866 1139h0M1161 974h0M1160 580h0M742 712h0M1557 573h0M1512 861h0M1462 541h0M850 392h0M602 662h0M760 1175h0M1348 882h0"/>
<path stroke="#390f6e" d="M1546 524h0M840 853h0M660 581h0M452 635h0M1437 519h0M1299 480h0M976 578h0M1042 455h0M1196 520h0M685 502h0M1081 733h0M789 817h0M1080 556h0M668 364h0M1232 542h0M436 923h0M352 1005h0M760 1165h0M758 412h0M1491 867h0M819 581h0M811 400h0M1275 534h0M754 603h0M1547 403h0M1411 538h0M1224 376h0M766 1138h0M1213 727h0M1150 595h0"/>
<path stroke="#d3436e" d="M882 794h0M1362 771h0M1132 680h0M1291 750h0M1067 1131h0M1065 700h0M490 674h0M599 713h0M1359 708h0M925 1038h0M1490 973h0M792 730h0M424 884h0M605 526h0M1217 701h0M540 908h0"/>
<path stroke="#ee5b5e" d="M1089 706h0M1092 751h0M1255 1038h0M1405 877h0M1336 699h0M659 859h0"/>
<path stroke="#a5317e" d="M492 946h0M764 714h0M1001 338h0M793 275h0M1266 715h0M1097 665h0M975 717h0M919 576h0M1143 763h0M618 776h0M681 341h0M1165 665h0M576 958h0M1505 902h0M628 447h0M469 629h0M1372 836h0M467 661h0M714 695h0M1117 589h0M1177 662h0M1209 1024h0M835 784h0M928 1139h0M526 697h0M955 798h0M1427 555h0M1162 651h0M1472 878h0M1057 880h0M1175 577h0M634 762h0M1136 947h0M1032 1025h0M1235 635h0M457 609h0M1153 602h0M1038 688h0M444 895h0M788 462h0M687 553h0M1080 590h0M1528 925h0M1280 669h0M817 918h0"/>
<path stroke="#6e1e81" d="M1366 498h0M507 708h0M1269 563h0M1446 915h0M620 429h0M1216 346h0M932 1063h0M599 540h0M874 984h0M1042 1120h0M1149 559h0M774 672h0M1113 811h0M1271 523h0M1078 676h0M536 869h0M387 914h0M1254 433h0M1168 665h0M1326 518h0M575 768h0M725 442h0M1322 542h0M697 465h0M1384 1039h0M1200 615h0M456 875h0M961 1127h0M949 256h0M960 580h0M1158 728h0M1117 913h0M476 927h0M530 936h0M777 385h0M848 718h0M1226 569h0M1184 685h0"/>
<path stroke="#c03a76" d="M769 589h0M1193 965h0M1091 498h0M1325 578h0M817 844h0M685 315h0M558 535h0M1244 556h0M787 949h0M1399 716h0M364 950h0M627 600h0M1071 973h0M915 896h0M943 515h0M1177 679h0M703 736h0M779 643h0M989 758h0M691 494h0M1512 873h0M1332 888h0M1263 546h0"/>
<path stroke="#892881" d="M1300 1016h0M1474 523h0M952 292h0M922 879h0M1285 724h0M1298 667h0M679 463h0M1266 657h0M458 862h0M1533 903h0M739 512h0M1100 726h0M1112 515h0M1192 632h0M975 977h0M692 756h0M1152 974h0M412 884h0M1486 794h0M1355 841h0M1085 614h0M1340 753h0M1268 376h0M1451 791h0M795 644h0M584 561h0M1250 601h0M855 460h0M536 533h0M881 436h0M979 903h0M958 385h0M1062 547h0M1405 452h0"/>
<path stroke="#fc8961" d="M488 613h0M1299 993h0M1361 801h0M907 841h0M809 732h0M1319 656h0M1527 880h0M1385 1004h0M700 743h0M1398 952h0M714 669h0M1079 746h0"/>
<path stroke="#ab337c" d="M548 956h0M996 969h0M579 581h0M1406 1017h0M684 389h0M837 1133h0M1243 502h0M552 894h0M1206 661h0M1267 524h0M335 990h0M948 893h0M356 986h0M1183 546h0M1166 650h0M1054 273h0M629 447h0M1646 521h0M828 715h0M818 544h0M1337 504h0M760 671h0M479 921h0M1240 347h0M1411 578h0M1093 796h0M755 458h0M1069 744h0M758 1163h0M1118 537h0M1451 613h0M1411 1020h0M1508 897h0M943 890h0M1470 914h0M1362 936h0M1052 1129h0M828 909h0"/>
<path stroke="#f56b5c" d="M1488 844h0M854 805h0M1424 859h0M1294 948h0M766 869h0"/>
<path stroke="#ba3878" d="M1184 645h0M1313 628h0M553 661h0M1532 925h0M1056 895h0M1503 914h0M516 922h0M1400 894h0M683 492h0M772 1175h0M623 494h0M773 813h0M700 703h0M740 625h0M536 736h0M1086 268h0M1502 397h0M1504 459h0M906 854h0M1057 741h0M492 521h0M740 702h0M945 877h0M1299 975h0M829 255h0M591 618h0M1385 671h0"/>
<path stroke="#c73d73" d="M1164 1009h0M1380 671h0M1522 909h0M1083 889h0M970 1028h0M1013 653h0M778 614h0M1192 1017h0M787 609h0M1413 684h0M630 755h0M920 840h0M547 640h0M1131 924h0M649 859h0M1390 962h0M1364 591h0M722 426h0M993 907h0M946 390h0M1281 905h0M1585 777h0M714 484h0M584 739h0M1043 897h0M1404 866h0M1648 561h0M1317 685h0M1171 907h0M1098 279h0M659 947h0"/>
<path stroke="#b2357b" d="M1435 942h0M654 321h0M848 889h0M936 249h0M465 912h0M1324 563h0M311 868h0M473 573h0M805 591h0M656 973h0M581 742h0M1085 963h0M767 668h0M987 814h0M1462 934h0M667 972h0M1320 798h0M1001 265h0M653 666h0M563 542h0M764 736h0"/>
<path stroke="#331067" d="M758 705h0M353 935h0M515 613h0M1133 398h0"/>
<path stroke="#fd9a6a" d="M1451 860h0M1434 994h0M1371 847h0M1427 901h0M1452 850h0M650 952h0"/>
<path stroke="#e04c67" d="M1492 933h0M1333 570h0M1204 674h0M982 909h0M899 768h0M1325 915h0M684 473h0M856 653h0M1192 1018h0"/>
<path stroke="#e55064" d="M722 963h0M1278 596h0M881 775h0M798 710h0M622 907h0M880 891h0M654 868h0M1416 947h0M718 860h0M471 936h0M452 911h0M1329 918h0M860 966h0"/>
<path stroke="#fea16e" d="M500 666h0M1544 885h0M874 710h0"/>
<path stroke="#cd4071" d="M1467 887h0M1185 1019h0M403 943h0M1626 664h0M1354 908h0M514 736h0M1187 542h0M439 574h0M837 504h0M1422 941h0M890 669h0M642 855h0M1157 943h0"/>
<path stroke="#f2625d" d="M1206 729h0M1498 921h0M504 961h0M580 669h0M1390 929h0M796 828h0M1546 908h0"/>
<path stroke="#982d80" d="M1461 913h0M1058 757h0M1119 921h0M431 612h0M1405 608h0M739 1140h0M1404 932h0M774 757h0M1317 656h0M709 645h0M552 486h0M1154 1003h0M1445 979h0M1616 609h0M814 661h0M576 572h0M1600 760h0M472 617h0M713 456h0"/>
<path stroke="#fd9266" d="M848 699h0M1216 963h0M797 802h0M749 624h0"/>
<path stroke="#fa815f" d="M1339 905h0M911 776h0M987 882h0M745 701h0M1048 968h0M953 838h0"/>
<path stroke="#f7725c" d="M1313 989h0M898 844h0M1458 863h0M647 694h0M1425 995h0M1448 1006h0M1458 996h0"/>
<path stroke="#5c167f" d="M912 846h0M497 568h0M780 373h0"/>
<path stroke="#f9795d" d="M1369 1040h0M1457 909h0M565 774h0M1435 910h0"/>
<path stroke="#feb97f" d="M1309 1021h0M1395 1015h0"/>
<path stroke="#fceeb0" d="M1369 903h0M1537 916h0"/>
<path stroke="#621980" d="M921 747h0M939 879h0"/>
<path stroke="#fec88c" d="M1510 928h0"/>
<path stroke="#fde0a1" d="M1412 928h0"/>
<path stroke="#feb078" d="M1337 1020h0"/>
<path stroke="#7c2382" d="M1206 759h0M1092 807h0M1118 671h0M765 303h0M507 975h0M901 760h0M513 980h0M549 575h0M994 851h0M594 654h0M475 531h0M1188 438h0M900 570h0M784 525h0M1173 581h0M1636 592h0M1232 465h0M729 313h0M874 1149h0M1298 499h0M957 792h0M591 754h0M919 827h0M1038 651h0M692 472h0M1368 508h0M377 1014h0M431 866h0M705 703h0M512 890h0M1116 473h0M1154 774h0M809 433h0M922 900h0M1488 842h0M1232 425h0M1078 814h0M1405 855h0M542 873h0M1193 699h0M959 258h0M1125 642h0M482 904h0M1078 395h0M1336 431h0M659 689h0M342 953h0M1363 1038h0M941 1121h0M1283 651h0M819 1171h0M298 834h0M1499 648h0M1008 569h0M1081 625h0M372 927h0M371 861h0M1317 650h0M402 912h0M730 787h0M1193 740h0M938 246h0M1507 891h0M815 619h0M1546 421h0M1016 1132h0M1451 819h0M785 1105h0M1226 668h0M631 597h0M716 820h0M1193 743h0M1214 534h0M1038 886h0M1378 986h0M388 871h0M957 976h0M1219 379h0M949 613h0M772 968h0M1362 747h0M1188 684h0M907 520h0M911 880h0M1428 716h0M507 885h0M1161 629h0M1002 580h0M1654 587h0"/>
<path stroke="#4e117b" d="M914 550h0M1463 817h0M770 294h0M1511 739h0M1635 517h0M1002 1141h0M635 657h0M475 897h0M792 783h0M1116 943h0M1016 616h0M823 653h0M1266 1003h0M611 433h0M792 449h0M1067 682h0M477 897h0M381 951h0M715 346h0M1307 676h0M474 632h0M890 1155h0M967 1153h0M546 638h0M1108 707h0M785 1157h0M1709 670h0M862 545h0M1200 337h0M1069 663h0M1012 389h0M1144 517h0M1633 543h0M549 966h0M1527 603h0M505 880h0M683 578h0M1014 470h0M1344 442h0M510 878h0M1478 865h0M1424 587h0M852 538h0M764 1142h0M1140 730h0M600 507h0M1239 579h0M631 652h0M864 746h0M1428 1012h0M1222 691h0M459 611h0M1673 589h0M942 949h0M527 561h0M693 604h0M1398 500h0M1403 523h0M1179 808h0M1359 973h0M1099 385h0M1134 492h0M963 898h0M622 431h0M1115 399h0M1206 1021h0M803 605h0M421 867h0M673 297h0M622 474h0M607 670h0M1039 834h0M1572 616h0M1117 752h0M1204 610h0M1362 407h0M693 813h0M1209 968h0M1096 1091h0M860 247h0M773 1142h0M1506 535h0M1163 557h0M1374 584h0"/>
<path stroke="#d9466b" d="M1046 1133h0M354 928h0M1303 1002h0M1309 551h0M1029 886h0M1103 512h0M470 983h0M486 647h0M1538 884h0M1421 915h0M1122 691h0M637 479h0M1064 740h0M1508 900h0M1281 708h0M1291 1033h0M1468 880h0M1256 1023h0M1304 803h0M1411 1002h0"/>
<path stroke="#892881" d="M1270 571h0M560 928h0M452 921h0M694 294h0M474 572h0M608 559h0M401 1026h0M662 656h0M1558 500h0M862 1106h0M545 555h0M701 804h0M1176 415h0M776 1182h0M1083 914h0M953 702h0M1062 473h0M507 526h0M1113 686h0M863 1129h0M1634 555h0M1082 680h0M1208 562h0M926 958h0M375 906h0M672 680h0M734 289h0M664 945h0M1158 689h0"/>
<path stroke="#d3436e" d="M546 986h0M502 715h0M1074 394h0M1399 984h0M821 645h0M665 767h0M531 944h0M896 786h0M535 970h0M1596 582h0M639 467h0M1179 658h0M697 710h0M745 968h0M909 672h0M1445 1008h0M1078 377h0M711 761h0M1280 963h0M936 905h0M532 928h0M1218 901h0M787 905h0M1008 664h0M1025 878h0M1472 929h0M1258 945h0M952 821h0M983 663h0M1448 978h0M1456 972h0M657 464h0"/>
<path stroke="#9e2f7f" d="M1071 592h0M1488 499h0M1053 892h0M1118 605h0M1507 939h0M393 1005h0M953 256h0M1293 596h0M1585 794h0M529 906h0M1412 590h0M1017 745h0M1289 647h0M1281 541h0M460 600h0M1443 990h0M1514 929h0M454 940h0M1368 803h0M1524 407h0M827 273h0M1090 892h0M726 793h0M1535 525h0M952 955h0M996 246h0M370 989h0M1208 581h0M1386 574h0M1533 900h0M1105 767h0M422 992h0M736 1125h0M567 606h0M426 1009h0M664 659h0"/>
<path stroke="#000004" d="M1207 509h0M527 912h0M1527 551h0M769 617h0M737 646h0M683 487h0M559 488h0M668 576h0M1051 555h0M522 986h0M791 456h0M1360 492h0M939 251h0M1520 524h0M944 235h0M773 1168h0M887 256h0M330 918h0M802 1171h0M1031 797h0M869 704h0M1193 610h0M1073 876h0M513 583h0M1435 496h0M693 891h0M1206 636h0M1070 581h0M1356 420h0M942 490h0M1577 433h0M853 559h0M866 550h0M1401 713h0M1606 563h0M1260 675h0M1484 513h0M795 625h0M850 766h0M1087 754h0M1380 780h0M875 631h0M706 598h0M444 581h0M406 872h0M1148 640h0M1032 392h0M1076 980h0M497 888h0M786 689h0M845 1085h0M1168 441h0M1545 468h0M1376 417h0M1546 404h0M1189 502h0M473 898h0M1148 609h0M422 1000h0M1052 395h0M467 572h0M511 568h0M416 909h0M1078 432h0M462 876h0M854 592h0M748 433h0M944 879h0M1116 622h0M769 537h0M667 453h0M1310 1020h0M1264 602h0M1065 436h0M1170 574h0M618 550h0M1433 580h0M1595 793h0M1429 626h0M1032 616h0M1515 435h0M1285 504h0M736 553h0M1553 445h0M353 974h0M454 649h0M734 588h0M1044 471h0M599 560h0M934 945h0M1213 805h0M436 612h0M1559 530h0M1449 500h0M928 262h0M463 875h0M1584 518h0M1494 624h0M1386 693h0M439 595h0M293 845h0M451 877h0M1219 696h0M1524 601h0M1657 536h0M962 311h0M696 507h0M1088 787h0M1381 719h0M653 309h0M1084 549h0M450 550h0M687 548h0M1167 343h0M1425 850h0M1088 463h0M481 878h0M1008 631h0M1411 437h0M845 418h0M995 260h0M1583 838h0M379 925h0M1183 693h0M1204 555h0M1427 473h0M1224 637h0M537 560h0M1062 1113h0M1066 878h0M1089 422h0M864 362h0M448 629h0M779 1184h0M1454 917h0M1602 518h0M1453 714h0M411 874h0M719 441h0M1311 559h0M1046 413h0M1209 981h0M1523 490h0M1326 554h0M848 735h0M747 583h0M643 333h0M1358 485h0M1393 416h0M457 636h0M1424 507h0M654 437h0M1381 425h0M1187 514h0M440 626h0M1513 416h0M516 629h0M1183 617h0M1028 489h0M1650 571h0M1196 595h0M1060 276h0M709 317h0M1376 527h0M1118 631h0M644 830h0M1213 776h0M753 1143h0M1631 756h0M1122 630h0M635 491h0M1460 641h0M1255 357h0M1449 418h0M1205 415h0M1319 734h0M1022 985h0M1289 480h0M1536 526h0M463 550h0M1296 647h0M1182 586h0M1578 576h0M823 637h0M853 605h0M1090 575h0M509 574h0M1049 251h0M1646 523h0M1356 426h0M639 485h0M979 436h0M528 550h0M930 453h0M714 541h0M1323 448h0M1077 901h0M1389 447h0M1240 644h0M1353 468h0M344 899h0M290 825h0M1233 612h0M1326 463h0M1021 553h0M1360 454h0M1206 452h0M802 267h0M1213 538h0M1320 678h0M1249 590h0M717 1119h0M762 410h0M962 575h0M974 486h0M1096 695h0M925 1061h0M641 696h0M702 477h0M785 508h0M1553 502h0M1492 843h0M1023 902h0M1126 963h0M761 582h0M1692 686h0M1031 506h0M815 794h0M1631 562h0M1140 951h0M1622 490h0M750 694h0M1080 273h0M1611 500h0M531 629h0M674 594h0M539 545h0M837 488h0M871 505h0M1166 627h0M1426 684h0M1400 880h0M1335 505h0M976 892h0M832 494h0M994 1134h0M1342 916h0M659 445h0M1182 665h0M751 574h0M734 584h0M560 567h0M1132 474h0M1009 263h0M1087 501h0M1613 787h0M1222 566h0M1403 1028h0M852 815h0M1290 623h0"/>
<path stroke="#ea5661" d="M1292 1036h0M511 719h0M1290 892h0M973 947h0M879 662h0M1534 926h0M1472 971h0M1458 968h0M1338 968h0M1007 690h0M1522 917h0M923 911h0M1437 883h0M1102 733h0M727 946h0M1376 1001h0"/>
<path stroke="#ee5b5e" d="M951 884h0M1323 994h0M1391 864h0M643 940h0M530 690h0M683 710h0M1471 880h0M605 619h0M1622 559h0M485 579h0M666 946h0M1107 660h0"/>
<path stroke="#832681" d="M733 635h0M689 478h0M1612 790h0M1072 1101h0M947 833h0M1168 695h0M851 1096h0M755 683h0M1073 899h0M675 319h0M1550 442h0M1049 567h0M929 530h0M1523 661h0M1325 517h0M706 530h0M1008 239h0M495 942h0M1255 661h0M689 425h0M440 579h0M976 1128h0M1113 540h0M1107 415h0M595 545h0M911 493h0M1438 500h0M648 539h0M1399 639h0M764 708h0M713 682h0M1054 901h0M1179 412h0M667 865h0M878 532h0M739 503h0M1286 563h0M1200 573h0M1252 958h0M1155 688h0M1463 841h0M1084 750h0M1498 896h0M1523 503h0M579 720h0M480 627h0M831 268h0M1247 509h0M943 288h0M721 439h0M793 288h0M1128 562h0M1452 742h0M1305 472h0M856 640h0M1288 609h0M460 589h0M918 812h0M1219 448h0M1275 656h0M683 828h0M1144 606h0M1072 259h0M741 385h0"/>
<path stroke="#a5317e" d="M884 273h0M733 817h0M1296 663h0M1289 1040h0M1269 926h0M441 628h0M838 396h0M1131 963h0M1360 421h0M586 725h0M453 940h0M1104 428h0M1043 1138h0M363 905h0M918 277h0M343 1007h0M1021 962h0M771 705h0M1273 902h0M579 631h0M1147 950h0M946 686h0M1398 532h0M1049 680h0M396 882h0M1180 1020h0M1131 638h0M1229 613h0M1113 950h0M868 561h0M301 820h0M878 796h0M1096 754h0M1012 698h0M1464 575h0M1192 1004h0M1349 712h0"/>
<path stroke="#471078" d="M1602 754h0M723 714h0M1242 482h0M1445 866h0M1508 491h0M755 1171h0M525 967h0M969 399h0M428 944h0M1111 713h0M1245 617h0M773 878h0M709 670h0M1525 406h0M779 1179h0M1525 393h0M1508 535h0M901 1106h0M902 1081h0M1037 889h0M1038 1075h0M1035 1122h0M618 749h0M1018 948h0M494 692h0M1210 759h0M1254 505h0M842 1109h0M1311 557h0M477 954h0M1054 1085h0M485 891h0M778 646h0M454 558h0M1375 540h0M1034 423h0M481 546h0M397 1014h0M1513 457h0M450 879h0M944 1042h0M688 542h0M1043 1102h0M1089 589h0M783 624h0M936 426h0M1074 447h0M1191 801h0M610 489h0M1381 743h0M906 889h0M774 532h0M864 1127h0M1474 473h0M300 836h0M1037 266h0M1640 737h0M1587 634h0M1060 414h0M645 388h0M973 877h0M752 610h0M457 635h0M1143 653h0M1475 455h0M848 539h0M398 1029h0M1045 983h0M850 597h0M1452 567h0M575 551h0M733 717h0M1134 588h0M895 1066h0M451 555h0M547 540h0M1086 587h0M823 643h0M869 577h0M970 846h0M926 973h0M654 803h0M1361 552h0M620 678h0M1552 462h0M777 442h0M1220 379h0M1563 799h0M1475 696h0M751 401h0M1515 409h0M1007 676h0M580 661h0M1522 917h0M351 942h0M1375 521h0M1048 479h0M1619 493h0M1423 700h0M1540 400h0M1124 795h0M991 258h0M1276 640h0M732 666h0M739 769h0M1412 685h0M1146 718h0M390 873h0M694 563h0M1441 848h0M1106 556h0M1418 563h0M621 733h0M1244 700h0M1189 669h0M1011 438h0M1365 734h0M677 452h0M772 1144h0M739 658h0M367 958h0M474 1013h0M646 975h0M436 886h0M1240 704h0M1256 713h0M710 681h0M817 581h0M1420 1020h0M909 1040h0M1460 928h0M1258 621h0M460 897h0M1035 957h0M1455 1002h0M881 1145h0M1027 429h0M1129 899h0M741 1129h0M606 968h0M1177 547h0M1127 513h0M1058 885h0M1027 260h0M750 863h0M1183 942h0M1165 903h0M1188 509h0M1339 594h0M659 484h0M1026 269h0M396 1022h0M341 1005h0M527 954h0M1240 541h0M843 878h0M826 621h0M1132 599h0M1604 612h0M1367 861h0M810 794h0M1385 500h0M791 694h0"/>
<path stroke="#400f74" d="M1622 558h0M1518 441h0M1358 582h0M1278 646h0M880 256h0M1110 509h0M854 352h0M786 1178h0M765 399h0M656 324h0M1525 431h0M1071 674h0M1104 754h0M619 732h0M519 533h0M1533 884h0M560 505h0M333 897h0M521 954h0M542 523h0M1140 980h0M909 776h0M954 532h0M923 570h0M1159 930h0M1346 495h0M792 697h0M882 251h0M1239 526h0M1077 730h0M857 795h0M678 863h0M961 898h0M995 627h0M1419 413h0M1221 707h0M1452 661h0M756 1133h0M1245 554h0M1446 488h0M914 1052h0M1082 677h0M1549 458h0M1291 854h0M1184 496h0M1295 687h0M1499 506h0M1062 439h0M1145 929h0M850 663h0M1188 760h0M912 784h0M1047 247h0M751 579h0M1129 600h0M1215 1021h0M1094 584h0M1631 745h0M415 1015h0M1198 387h0M1548 607h0M1296 769h0M1088 984h0M867 1100h0M1232 691h0M718 510h0M1042 688h0M828 1107h0M1095 485h0M911 701h0M374 903h0M1238 642h0M746 1129h0M474 948h0M433 897h0M1327 439h0M822 1095h0M804 1160h0M1381 558h0M1332 767h0M692 399h0M660 696h0M1347 402h0M1134 613h0M1483 527h0M1185 661h0M1039 273h0M1268 500h0M946 674h0M771 419h0M1257 901h0M1336 535h0M1441 870h0M1134 602h0M682 319h0M1115 516h0M1030 978h0M783 1168h0M665 632h0M1217 512h0M551 501h0M742 897h0M1312 412h0M1319 903h0M1379 525h0M828 276h0M1438 535h0M559 494h0M498 878h0M989 260h0M1036 1124h0M1013 467h0M1619 765h0M782 625h0M788 1169h0M290 812h0M1109 956h0M920 647h0M809 300h0M896 647h0M1029 900h0M663 679h0M911 419h0M1250 540h0M820 1117h0M1092 499h0M1350 700h0M1584 828h0M1250 533h0M1042 964h0M1261 622h0M1587 535h0M1618 526h0M512 709h0M1472 450h0M1158 329h0M868 745h0M925 738h0M728 535h0M816 620h0"/>
<path stroke="#762181" d="M686 848h0M924 822h0M776 747h0M744 646h0M1648 739h0M869 897h0M797 969h0M926 572h0M1209 650h0M502 954h0M1005 1036h0M681 798h0M907 527h0M1551 554h0M699 862h0M722 707h0M1471 903h0M713 671h0M1467 522h0M719 476h0M577 785h0M770 1185h0M795 753h0M749 662h0M1386 728h0M545 979h0M417 971h0M1044 432h0M926 613h0M1409 556h0M726 292h0M1051 536h0M1676 644h0M803 539h0M1423 514h0M1125 661h0M1589 785h0M814 647h0M443 1013h0M769 363h0M1480 879h0M364 927h0M503 533h0M972 257h0M641 861h0M786 603h0M1032 880h0M1365 573h0M1027 1131h0M898 1155h0M1067 401h0M1269 499h0M504 727h0M997 881h0M1439 748h0M913 1040h0M633 526h0M989 628h0M749 628h0M420 894h0M416 924h0M939 231h0M827 526h0M1144 426h0M1098 683h0"/>
<path stroke="#ab337c" d="M380 928h0M805 916h0M512 684h0M756 710h0M698 679h0M1278 850h0M1141 879h0M1285 688h0M737 426h0M1374 1041h0M647 510h0M458 921h0M1317 502h0M527 706h0M831 645h0M1238 362h0M349 993h0M902 235h0M497 663h0M614 427h0M831 723h0M823 831h0M1052 394h0M1022 610h0M1578 828h0M1171 966h0M400 923h0M726 799h0M1080 884h0M1105 947h0M557 640h0M1282 585h0M1535 506h0M1402 873h0M957 496h0M1376 809h0M1207 640h0"/>
<path stroke="#56147d" d="M652 520h0M747 543h0M822 263h0M1265 767h0M886 780h0M1240 740h0M696 463h0M1110 640h0M295 822h0M1032 277h0M1571 760h0M1203 360h0M1123 644h0M1084 359h0M380 855h0M1240 564h0M1375 704h0M860 1062h0"/>
<path stroke="#fea16e" d="M1149 665h0M1311 1022h0M770 708h0"/>
<path stroke="#ba3878" d="M363 925h0M1406 1023h0M388 1022h0M1487 818h0M397 1014h0M1027 839h0M1451 450h0M1351 1007h0M864 813h0M823 263h0M1303 1026h0M715 553h0M858 402h0"/>
<path stroke="#390f6e" d="M1595 805h0M309 831h0M1459 553h0M1098 527h0M463 869h0M1188 419h0M962 878h0M1330 626h0M946 398h0M1481 513h0M713 490h0M841 627h0M450 623h0M508 541h0M1048 1101h0M764 1182h0M1214 612h0M1416 689h0M1457 715h0M754 1140h0M659 820h0M1576 447h0M967 891h0M1224 693h0M1422 487h0M506 637h0M955 552h0M1279 544h0M998 787h0M1515 393h0M760 468h0M1373 561h0M1092 628h0M1097 532h0M994 673h0M643 627h0M357 935h0M1469 689h0M846 1127h0M417 992h0M672 649h0"/>
<path stroke="#6e1e81" d="M790 627h0M1396 847h0M404 1004h0M1257 632h0M1304 899h0M374 940h0M1361 587h0M518 542h0M475 538h0M815 591h0M1345 513h0M455 985h0M1547 552h0M579 574h0M780 611h0M1224 613h0M1203 605h0M1131 402h0M706 330h0M1621 491h0M480 683h0M770 1143h0M468 577h0M847 575h0M1157 596h0M1447 877h0"/>
<path stroke="#c73d73" d="M570 627h0M890 358h0M955 920h0M811 693h0M926 786h0M1281 854h0M1189 724h0M1096 956h0M1175 888h0M1361 543h0M739 672h0M716 288h0M1455 959h0M492 918h0M1398 929h0M1421 608h0M1283 697h0M849 575h0M1393 521h0"/>
<path stroke="#982d80" d="M1381 1010h0M555 749h0M1249 528h0M534 924h0M798 279h0M1441 618h0M697 442h0M686 413h0M1222 750h0M960 878h0M1411 688h0M1086 503h0M549 507h0M463 884h0M1114 948h0M832 965h0M946 823h0M863 396h0M844 738h0M1133 749h0"/>
<path stroke="#f2625d" d="M1168 704h0M1279 960h0M1482 917h0"/>
<path stroke="#e55064" d="M550 586h0M850 698h0M1409 918h0M697 843h0M1541 436h0M1547 846h0M1443 983h0M700 613h0M1294 915h0M1193 973h0M1389 860h0M784 831h0M645 851h0M944 791h0M1206 403h0"/>
<path stroke="#fa815f" d="M746 823h0M1449 928h0M1439 886h0M1301 1025h0M1297 1018h0M860 830h0M1398 729h0M1428 985h0"/>
<path stroke="#c03a76" d="M1522 913h0M1436 508h0M782 711h0M1282 513h0M1400 1008h0M1049 777h0M538 752h0M528 741h0M1058 716h0M455 862h0M1338 1002h0M1411 456h0M768 656h0M1128 676h0M1081 990h0M701 627h0M1403 826h0M1439 761h0M698 747h0M1394 577h0M1103 935h0M1310 701h0M497 915h0M1135 510h0"/>
<path stroke="#b2357b" d="M1451 958h0M1161 983h0M594 540h0M1061 736h0M344 887h0M430 971h0M761 620h0M701 611h0M730 709h0M1257 637h0M1049 1133h0M638 760h0M1147 787h0M1091 449h0M959 881h0M1157 915h0M1122 904h0M573 706h0M829 560h0M850 408h0M864 429h0M1009 1122h0M780 730h0M509 986h0M1302 755h0M1342 633h0M1058 1122h0M690 966h0M1197 718h0M1196 617h0M1176 642h0"/>
<path stroke="#feb078" d="M1447 972h0M1234 1008h0"/>
<path stroke="#cd4071" d="M1292 684h0M871 264h0M962 763h0M417 875h0M920 893h0M917 966h0M1452 833h0M846 810h0M1367 1005h0M720 965h0M694 657h0M1476 899h0M1315 724h0M1346 626h0M1202 650h0"/>
<path stroke="#e04c67" d="M600 949h0M1126 680h0M821 955h0M1288 702h0M1245 895h0M1053 264h0M708 965h0M1102 565h0M1325 863h0M942 953h0M1539 886h0M1228 654h0M1141 692h0M1474 828h0M1464 943h0M1399 805h0M824 822h0"/>
<path stroke="#5c167f" d="M673 506h0M724 517h0M470 883h0M739 291h0M1346 631h0"/>
<path stroke="#681c81" d="M420 991h0M1050 791h0M1392 882h0M1531 445h0M1120 583h0M1169 800h0"/>
<path stroke="#fcf6b8" d="M1460 1000h0"/>
<path stroke="#f9795d" d="M962 887h0M1466 975h0M1477 871h0M1272 912h0M1383 1039h0M702 627h0M908 700h0M1259 932h0M1208 735h0M1613 789h0"/>
<path stroke="#902a81" d="M492 616h0M1139 685h0M753 728h0M1199 537h0M536 539h0M1047 626h0M892 451h0M384 867h0M900 1083h0M1390 1013h0M888 1047h0M435 602h0M1258 528h0M408 1013h0M662 482h0M1394 964h0M1412 969h0"/>
<path stroke="#fd9266" d="M697 852h0M1324 910h0M568 771h0M453 1015h0"/>
<path stroke="#f7725c" d="M1289 998h0M923 845h0M1234 697h0M1412 1016h0M1343 932h0"/>
<path stroke="#fea973" d="M1198 1015h0"/>
<path stroke="#f56b5c" d="M1338 858h0M686 941h0M715 735h0M1434 886h0M1509 959h0M788 730h0"/>
<path stroke="#fc8961" d="M1359 902h0M1283 927h0M1393 1014h0M1415 1018h0M1206 930h0"/>
<path stroke="#fec185" d="M1379 889h0"/>
<path stroke="#fd9a6a" d="M1459 803h0M777 885h0M1303 998h0"/>
<path stroke="#fde0a1" d="M1283 893h0"/>
<path stroke="#fec88c" d="M1374 1040h0"/>
<path stroke="#390f6e" d="M1068 1054h0M909 1153h0M961 614h0M864 580h0M512 960h0M1358 523h0M618 419h0M872 764h0M914 410h0M829 452h0M440 873h0M1139 543h0M914 1084h0M1164 541h0M817 517h0M1296 712h0M912 1051h0M1045 254h0M883 1156h0M743 443h0M1692 591h0M1047 1097h0M1006 536h0M451 635h0M1659 544h0M1356 576h0M876 820h0M787 1169h0M935 423h0M1327 614h0M1332 657h0M759 778h0"/>
<path stroke="#331067" d="M1060 1100h0"/>
<path stroke="#400f74" d="M1239 642h0M1013 770h0M688 722h0M793 553h0M1534 447h0M1138 424h0M1623 579h0M999 461h0M1200 366h0M1019 717h0M1199 509h0M790 357h0M1329 555h0M708 467h0M1271 604h0M824 913h0M1006 1106h0M960 591h0M891 436h0M1175 636h0M1454 695h0M477 655h0M1002 598h0M979 899h0M1000 1145h0M1223 600h0M291 809h0M1052 1088h0M1578 561h0M459 596h0M1211 601h0M801 312h0M373 976h0M1443 914h0M750 306h0M1366 471h0M759 906h0M811 454h0M930 750h0M706 517h0M931 1050h0M962 423h0M1302 497h0M479 954h0M347 974h0M1465 489h0M1424 863h0M569 759h0M701 674h0M1233 603h0M786 708h0M1071 255h0M1320 507h0M766 434h0M348 965h0M812 442h0M956 1097h0M1624 505h0M1470 866h0M351 989h0M869 975h0M1553 440h0M940 235h0M1461 505h0M1084 516h0M1595 590h0M1489 797h0M1413 609h0M525 731h0M674 476h0M697 472h0M890 570h0M1149 513h0M1267 782h0M1564 550h0M1418 393h0M1360 579h0M1389 512h0M792 476h0M1009 252h0M1630 498h0M1151 775h0M1195 580h0M1367 736h0M1392 669h0M683 426h0M530 883h0M1258 587h0M839 583h0M1163 415h0M727 1123h0M1345 640h0M786 559h0M1475 474h0M935 237h0M1205 547h0M1209 763h0M978 953h0M1390 743h0M1350 567h0M803 632h0M1394 1026h0M504 864h0M504 580h0M1110 553h0M1087 276h0M1409 523h0M1286 540h0M625 727h0M1017 646h0M925 835h0M1153 737h0M347 1001h0M1101 569h0M1308 386h0M1695 681h0M1246 525h0M1140 996h0M1361 593h0M1640 683h0M951 980h0M1040 1136h0M1010 694h0M1052 812h0M1163 878h0M770 715h0M904 1109h0M1089 381h0M1101 386h0M440 905h0M846 845h0M424 859h0M1063 723h0M953 1140h0M1214 668h0M1327 647h0M418 956h0M1129 540h0M417 891h0M1030 717h0M1192 695h0M1173 528h0"/>
<path stroke="#471078" d="M1227 502h0M315 832h0M801 1185h0M1116 686h0M1144 345h0M1658 629h0M1580 843h0M752 765h0M1579 756h0M1573 654h0M744 863h0M671 311h0M537 916h0M1306 473h0M562 611h0M1211 541h0M719 601h0M1043 1136h0M528 739h0M760 1173h0M1072 993h0M1077 882h0M1489 673h0M1085 1066h0M897 1099h0M1459 894h0M705 297h0M377 996h0M1521 458h0M966 409h0M532 754h0M897 571h0M624 962h0M1564 448h0M898 1121h0M532 483h0M861 267h0M1199 581h0M1250 356h0M952 645h0M958 252h0M553 728h0M899 1067h0M494 648h0M1070 255h0M888 384h0M650 460h0M575 797h0M1221 618h0M1130 505h0M664 338h0M860 1156h0M379 1019h0M1411 659h0M1472 640h0M495 710h0M1405 564h0M877 966h0M1366 587h0M393 1009h0M1380 769h0M851 434h0M1424 577h0M909 878h0M888 1073h0M1385 1006h0M758 1176h0M886 255h0M835 451h0M417 964h0M1144 566h0M810 410h0M958 1115h0M991 1097h0M1139 453h0M1006 1131h0M1465 513h0M507 685h0M539 528h0M860 392h0M1008 517h0M1376 1034h0M437 966h0M1105 658h0M790 449h0M929 628h0M1086 644h0M780 417h0M1320 518h0M996 1096h0M870 247h0M1170 732h0M733 715h0M690 538h0M773 1167h0M1472 851h0M486 623h0M524 606h0M1552 831h0M830 429h0M1634 534h0M693 661h0M865 607h0M1448 747h0M1498 448h0M1121 518h0M1610 504h0M1148 757h0M1555 568h0M911 1160h0M1195 622h0M729 617h0M1221 916h0M1164 808h0M943 669h0M998 472h0M349 878h0M961 625h0M1586 602h0M1563 510h0M624 512h0M758 530h0M727 543h0M1394 390h0M746 867h0M1197 615h0M751 281h0M1257 691h0M700 601h0M1135 884h0M658 672h0M1107 543h0M952 252h0M468 936h0M699 490h0M937 554h0M802 649h0M573 759h0M704 704h0M936 1132h0M1345 556h0M606 543h0M1186 898h0M1398 496h0M830 714h0M1457 514h0M1099 952h0M1034 364h0M925 686h0M779 1191h0M1136 565h0M1402 390h0M1380 894h0M1298 684h0M1346 436h0M1405 509h0M459 999h0M995 1129h0M720 491h0M1431 533h0M1016 914h0M1109 413h0M1069 434h0M1205 349h0M772 1188h0M934 1054h0M1549 538h0M1105 495h0M840 248h0M1383 849h0M1333 766h0M1391 650h0M518 967h0M1475 790h0M1272 780h0M808 911h0M851 578h0M1146 726h0M958 842h0M1126 670h0M1140 601h0M765 691h0"/>
<path stroke="#7c2382" d="M1188 1005h0M720 565h0M536 658h0M763 269h0M713 287h0M1272 650h0M1121 961h0M737 480h0M1235 603h0M1430 698h0M436 1016h0M1004 920h0M1403 546h0M1205 740h0M1207 892h0M694 842h0M975 501h0M1380 414h0M970 480h0M871 439h0M1605 532h0M1052 893h0M679 589h0M1345 579h0M1162 571h0M864 1104h0M1452 568h0M732 556h0M671 750h0M534 589h0M871 251h0M1386 543h0M1289 571h0M683 544h0M1300 537h0M475 623h0M653 859h0M385 953h0M764 870h0M1092 961h0M471 564h0M1417 915h0M1122 507h0M1050 1116h0M921 970h0M546 751h0M914 470h0M696 503h0M788 464h0M909 479h0M649 977h0M767 596h0M743 710h0M486 963h0M1139 810h0M871 1149h0M1719 691h0M523 916h0M1363 933h0M1487 645h0M795 546h0M1072 501h0M1259 699h0M934 257h0M1299 1002h0M588 465h0M1240 805h0M1400 582h0M1313 847h0M424 1022h0M475 869h0M1258 517h0M1091 513h0M1116 646h0M421 984h0M1567 871h0M1098 684h0M896 602h0M406 1016h0M937 468h0M1370 417h0M748 668h0M1440 899h0M1247 365h0M625 776h0M1494 846h0M362 988h0M1000 798h0M1328 722h0M1364 560h0M1367 988h0M1057 1127h0M1433 950h0M1423 476h0M882 424h0M1146 751h0M1022 752h0M847 951h0M802 382h0M1028 681h0M862 752h0"/>
<path stroke="#e04c67" d="M1460 863h0M1256 1025h0M1305 1023h0M483 637h0M1503 914h0M1569 431h0M1364 868h0M1384 993h0M971 887h0M498 947h0M720 685h0M1384 989h0M810 829h0M708 648h0M1337 929h0M504 973h0M733 634h0M1329 1011h0M354 1002h0M910 703h0M623 411h0"/>
<path stroke="#f2625d" d="M1393 914h0M1361 928h0M667 713h0M1567 803h0M1200 1004h0M994 774h0M441 592h0M567 929h0M1540 903h0M1231 740h0M1238 875h0M525 912h0"/>
<path stroke="#4e117b" d="M1426 543h0M940 493h0M748 462h0M341 963h0M832 826h0M782 1184h0M638 822h0M1639 611h0M940 1070h0M1230 691h0M1194 505h0M1268 950h0M1310 588h0M1438 541h0M1243 899h0M390 924h0M1200 1008h0M1353 459h0M942 244h0M1005 645h0M1106 433h0M1176 752h0M1146 672h0M824 456h0M900 235h0M737 415h0M992 662h0M1221 649h0M773 602h0M1235 693h0M1515 525h0M959 237h0M1140 720h0M494 685h0M601 778h0M434 1006h0M1450 529h0M906 635h0M723 526h0M816 588h0M984 615h0M1489 795h0M350 902h0M1469 651h0M787 608h0M1505 487h0M1456 421h0M926 562h0M503 536h0M984 572h0M1163 948h0M750 819h0M1026 1133h0M1051 880h0M448 552h0M1520 721h0M762 1163h0M980 602h0M1429 663h0M817 1092h0M989 948h0M765 890h0M1023 756h0M1454 563h0M1554 439h0M633 463h0M846 1123h0M1585 560h0M741 362h0M590 970h0M1210 1024h0M1377 505h0M763 831h0M1499 504h0M520 530h0M477 882h0M1525 861h0M1011 738h0M1035 259h0M1071 673h0M990 897h0M1505 513h0M1001 772h0M1280 398h0M397 865h0M383 990h0M1212 533h0M1665 705h0M537 607h0M991 1136h0M967 511h0M1499 553h0M854 951h0M699 472h0"/>
<path stroke="#ea5661" d="M1052 696h0M1259 977h0M1170 654h0M526 968h0M764 737h0M491 682h0M1265 876h0M421 980h0M1452 887h0"/>
<path stroke="#fcf6b8" d="M1375 1023h0"/>
<path stroke="#000004" d="M692 465h0M1063 830h0M570 510h0M1200 558h0M1577 538h0M591 685h0M1080 514h0M481 599h0M1138 532h0M1220 409h0M1455 698h0M1152 559h0M857 345h0M906 1048h0M334 947h0M1309 393h0M1485 865h0M577 772h0M769 295h0M548 752h0M1278 435h0M464 915h0M361 1001h0M557 481h0M1115 387h0M1318 650h0M1114 538h0M618 689h0M1058 988h0M969 772h0M1598 524h0M1327 570h0M1086 465h0M853 966h0M610 431h0M1473 653h0M1295 635h0M1298 439h0M1198 602h0M1168 451h0M1282 622h0M931 851h0M1202 614h0M741 731h0M503 711h0M701 468h0M760 727h0M1136 697h0M592 516h0M993 579h0M941 264h0M1556 466h0M750 519h0M1287 376h0M651 398h0M1176 577h0M1012 463h0M923 450h0M782 879h0M1388 519h0M631 565h0M1530 659h0M947 499h0M396 918h0M604 465h0M1387 700h0M1070 399h0M847 712h0M1662 693h0M542 528h0M617 679h0M1156 627h0M1359 569h0M1136 585h0M1537 493h0M1408 397h0M1381 577h0M1200 456h0M1194 672h0M1397 641h0M1046 903h0M1208 636h0M1694 657h0M1032 497h0M363 899h0M1106 989h0M1211 697h0M772 551h0M1384 511h0M507 923h0M1103 479h0M755 638h0M1590 457h0M1052 1079h0M1304 766h0M992 614h0M410 928h0M440 567h0M1237 355h0M1266 906h0M916 398h0M682 570h0M690 565h0M338 964h0M1236 554h0M1383 551h0M1208 529h0M1580 806h0M943 979h0M775 1146h0M290 835h0M1209 1006h0M443 922h0M1074 375h0M467 545h0M821 547h0M1207 575h0M1040 1125h0M1407 600h0M1066 276h0M1455 967h0M461 906h0M1008 755h0M697 674h0M1638 534h0M598 537h0M713 553h0M1189 645h0M1431 450h0M466 603h0M909 356h0M1274 627h0M881 882h0M1020 280h0M736 699h0M1317 721h0M716 486h0M1447 520h0M448 575h0M562 961h0M1153 790h0M1422 570h0M1358 561h0M1106 774h0M844 545h0M1319 546h0M805 611h0M1249 535h0M1287 637h0M781 1162h0M333 931h0M490 523h0M1396 465h0M1561 493h0M1060 603h0M739 850h0M1114 574h0M680 709h0M1045 739h0M1462 523h0M691 474h0M834 918h0M1067 429h0M773 644h0M1540 529h0M581 943h0M1018 282h0M1501 461h0M1169 773h0M648 439h0M1029 735h0M1424 628h0M1078 522h0M1220 632h0M352 990h0M830 633h0M792 850h0M770 1182h0M682 829h0M441 869h0M1425 621h0M735 490h0M845 410h0M718 715h0M1422 652h0M1017 1129h0M1153 605h0M1318 554h0M742 355h0M1466 566h0M1031 849h0M1465 421h0M646 746h0M478 571h0M1438 797h0M900 384h0M1417 618h0M1394 879h0M795 1096h0M660 664h0M1241 461h0M1076 686h0M632 856h0M485 555h0"/>
<path stroke="#ba3878" d="M1187 621h0M1129 507h0M1172 956h0M1552 823h0M1047 647h0M1134 1010h0M588 558h0M1085 355h0M1389 1023h0M944 826h0M394 1021h0M1243 590h0M1047 752h0M858 607h0M1171 637h0M710 661h0M1527 807h0M712 639h0M563 925h0"/>
<path stroke="#681c81" d="M1194 540h0M773 815h0M1178 526h0M876 845h0"/>
<path stroke="#832681" d="M358 958h0M1200 950h0M793 829h0M1540 410h0M1198 368h0M1394 594h0M938 967h0M1173 648h0M1090 991h0M581 457h0M1383 416h0M1055 886h0M967 618h0M607 524h0M1138 718h0M338 962h0M818 460h0M1069 1124h0M1166 432h0M1060 638h0M659 300h0M1237 583h0M1138 510h0M1524 819h0M1238 736h0M1070 729h0M1111 442h0M1409 968h0M1050 1078h0M537 872h0M1418 631h0M1032 1141h0M983 246h0M1235 371h0M1418 704h0M608 732h0M1190 542h0M990 517h0M878 1143h0M952 254h0M1539 727h0M1086 260h0M1570 579h0M1377 546h0M730 543h0M1085 691h0M650 534h0M1140 643h0M736 795h0M602 561h0M1241 1015h0M438 593h0M1406 641h0M872 619h0M881 577h0M763 589h0M448 624h0M1084 275h0M785 815h0M298 830h0M698 354h0M547 484h0M1384 882h0M1110 521h0M949 579h0M1035 691h0M1229 686h0M1488 530h0M1338 608h0M463 541h0M1152 389h0M1414 543h0M1072 679h0"/>
<path stroke="#c73d73" d="M479 938h0M683 719h0M1479 949h0M947 820h0M579 493h0M1533 394h0M1332 967h0M1367 650h0M1085 749h0M490 929h0M1465 544h0M1526 909h0M1191 1012h0M1167 550h0M353 1012h0M1243 977h0M1233 351h0M1310 913h0M739 600h0M1238 716h0M1073 924h0M1561 857h0M1263 793h0M987 766h0"/>
<path stroke="#56147d" d="M681 452h0M485 685h0M881 814h0M864 1099h0M417 1023h0M1512 885h0M560 712h0M874 256h0M765 488h0M1440 505h0M1462 528h0M655 640h0M355 1011h0M816 605h0M768 677h0"/>
<path stroke="#c03a76" d="M688 862h0M1270 698h0M1376 451h0M976 1151h0M1196 400h0M640 857h0M1514 925h0M936 537h0M1460 897h0M1398 928h0M871 259h0M511 635h0M480 879h0M1244 678h0M1006 843h0M1078 989h0M449 1006h0M869 974h0M1114 667h0M1392 999h0M536 577h0M1474 436h0M413 1024h0M842 950h0M703 433h0M1255 658h0M1319 674h0M1115 771h0"/>
<path stroke="#892881" d="M968 284h0M935 704h0M1095 517h0M870 575h0M896 973h0M517 964h0M1563 598h0M571 765h0M906 800h0M1140 562h0M970 904h0M1005 428h0M1177 725h0M1301 913h0M707 429h0M1199 362h0M1413 1004h0M1143 387h0M1244 797h0M829 252h0M1266 447h0M1445 707h0M1229 680h0M687 755h0M748 631h0M973 636h0M701 322h0M1155 413h0"/>
<path stroke="#cd4071" d="M1051 793h0M1237 750h0M1085 956h0M1414 516h0M1043 912h0M1397 933h0M980 632h0M1387 678h0M1187 724h0M1511 931h0M1359 832h0M990 763h0M1187 984h0M1499 842h0M571 756h0M1300 999h0M1156 1009h0M1384 1021h0M933 657h0M948 823h0"/>
<path stroke="#ab337c" d="M731 847h0M975 759h0M878 495h0M463 884h0M1029 712h0M974 878h0M917 238h0M1347 975h0M1068 661h0M1303 859h0M549 519h0M1000 1121h0M1184 755h0M687 298h0M1380 541h0M714 685h0M949 944h0M1215 553h0M648 533h0M1157 695h0M1206 597h0M1367 915h0M886 581h0M1230 684h0M546 759h0M1121 778h0M1088 656h0M1400 600h0"/>
<path stroke="#a5317e" d="M1324 593h0M962 753h0M578 626h0M1150 763h0M1021 522h0M751 418h0M1398 970h0M1150 953h0M1418 509h0M1463 808h0M584 533h0M1653 674h0M1092 444h0M562 657h0M1217 576h0M1451 911h0M913 576h0M1060 808h0M554 676h0M726 1132h0M1331 556h0M1439 446h0M622 807h0M617 494h0M937 240h0M1031 1045h0M1564 468h0M840 629h0M1099 657h0M659 680h0M730 495h0M716 600h0M686 440h0M742 720h0"/>
<path stroke="#902a81" d="M944 515h0M1478 925h0M1420 968h0M1239 637h0M931 1102h0M1171 762h0M559 522h0M1065 297h0M1475 795h0M1071 617h0M719 296h0M1410 1010h0M1151 741h0M684 705h0M816 542h0M349 1001h0M958 845h0M822 581h0M747 393h0M949 684h0M560 681h0M1367 640h0M1045 249h0"/>
<path stroke="#762181" d="M460 635h0M1111 579h0M1432 544h0M615 476h0M472 640h0M711 707h0M1340 764h0M747 680h0M1143 660h0M1219 874h0M1533 537h0M1230 568h0M1327 484h0M1128 924h0M925 239h0M891 794h0M706 674h0M1053 661h0M478 969h0M1005 238h0M391 1013h0M839 812h0M1258 611h0M1040 779h0M1539 907h0M1331 653h0M1128 746h0M1161 335h0M1268 640h0M1443 792h0M684 937h0M1241 573h0M879 976h0M1082 547h0M1331 468h0M622 489h0M773 614h0M487 914h0M1056 778h0M1097 666h0M1020 510h0M565 713h0M437 627h0M1222 540h0M1231 493h0M655 733h0M1208 584h0M1042 1117h0M792 700h0M1445 470h0M1170 970h0M740 500h0M1549 543h0M806 385h0M1268 547h0M837 250h0M653 366h0M1049 616h0M1027 252h0M525 874h0M1269 628h0M1153 727h0M805 353h0M432 884h0M1139 626h0M1129 980h0M515 923h0M1168 718h0"/>
<path stroke="#b2357b" d="M726 719h0M1047 605h0M884 698h0M705 534h0M861 953h0M1306 720h0M1246 657h0M1317 1023h0M1359 824h0M1255 709h0M747 663h0M1480 894h0M1568 772h0M683 707h0M548 542h0M1128 507h0M706 463h0M557 972h0M445 868h0M523 683h0M527 970h0M1437 983h0M666 663h0M952 956h0"/>
<path stroke="#d3436e" d="M914 804h0M614 958h0M682 513h0M1243 367h0M1488 910h0M1300 877h0M649 307h0M967 517h0M539 758h0M1122 468h0M1251 633h0M752 636h0M1281 604h0M1159 690h0M972 1108h0M478 916h0M749 296h0M861 880h0M739 477h0M1428 999h0M524 969h0M1126 588h0M1441 866h0M1207 646h0M851 416h0M1274 971h0"/>
<path stroke="#9e2f7f" d="M1653 657h0M716 476h0M1015 661h0M373 1022h0M480 548h0M1309 437h0M1110 717h0M449 916h0M1069 777h0M1388 543h0M1376 561h0M520 513h0M661 590h0M591 807h0M931 711h0M1531 898h0M816 786h0M651 304h0M934 247h0M987 966h0M1402 653h0M920 852h0M465 909h0M1338 432h0M853 536h0M1558 859h0M1572 458h0M512 592h0M1416 597h0M1490 926h0M1546 496h0M927 262h0M1339 967h0M1131 552h0M1215 647h0M923 852h0M742 657h0M1294 501h0M788 537h0M1636 614h0M1236 1002h0M590 516h0M1277 578h0M1291 586h0"/>
<path stroke="#6e1e81" d="M1069 450h0M1220 345h0M1280 652h0M766 1183h0M1191 663h0M1412 688h0M1519 516h0M793 637h0M1392 445h0M1642 697h0M1118 414h0M548 582h0M1197 525h0M873 484h0M1362 429h0M648 396h0M1354 1030h0M1344 706h0M707 487h0M494 943h0M1256 727h0M1264 543h0M761 495h0M1308 565h0M799 731h0M803 603h0M539 562h0M1513 927h0M1529 921h0M1179 724h0M1353 842h0M1476 948h0M731 572h0M912 980h0M729 299h0M794 609h0"/>
<path stroke="#fa815f" d="M711 770h0M1128 690h0M713 954h0"/>
<path stroke="#5c167f" d="M1180 778h0M1445 798h0M1451 770h0M1155 692h0"/>
<path stroke="#fea973" d="M1111 746h0M1234 700h0M1435 818h0M528 753h0"/>
<path stroke="#d9466b" d="M1083 674h0M1201 1014h0M803 891h0M783 827h0M348 925h0M826 708h0M1373 663h0M746 635h0M1174 712h0M1394 1028h0M935 740h0M847 1104h0M710 676h0M1408 1014h0M1381 590h0"/>
<path stroke="#982d80" d="M1690 704h0M1403 416h0M651 509h0M823 798h0M822 1098h0M813 849h0M1076 589h0M1454 520h0M1537 490h0M775 627h0M653 428h0M651 472h0M1523 912h0M1441 779h0M1013 920h0M1502 638h0M1442 995h0M785 271h0M496 946h0M1240 487h0M1169 998h0M1153 381h0M1175 603h0M1102 654h0M1007 550h0M1096 780h0M907 893h0M712 410h0M580 956h0M1126 784h0M1526 930h0M1490 856h0"/>
<path stroke="#fd9a6a" d="M1569 800h0M1183 769h0M544 980h0M1118 684h0M1404 914h0M648 630h0"/>
<path stroke="#f7725c" d="M1400 928h0M1409 1021h0M1407 928h0M685 600h0M620 950h0M1167 750h0"/>
<path stroke="#ee5b5e" d="M1347 1003h0M1371 718h0"/>
<path stroke="#fceeb0" d="M1371 974h0"/>
<path stroke="#fd9266" d="M1311 942h0M1524 835h0"/>
<path stroke="#e55064" d="M1427 907h0M799 697h0M995 899h0M540 955h0M1402 659h0M1399 961h0M442 1015h0M635 439h0M554 634h0M540 739h0M1345 986h0"/>
<path stroke="#fc8961" d="M641 843h0M1027 832h0M1361 697h0M1286 870h0M1530 922h0M1245 923h0"/>
<path stroke="#f9795d" d="M1463 991h0M1246 871h0M831 831h0M843 670h0M622 759h0"/>
<path stroke="#fec185" d="M1535 898h0"/>
<path stroke="#feb078" d="M617 760h0M1501 957h0M1119 730h0"/>
<path stroke="#fde7a9" d="M1553 807h0"/>
<path stroke="#feb97f" d="M1459 808h0M1389 875h0"/>
<path stroke="#fea16e" d="M1518 937h0M1473 972h0M723 964h0"/>
<path stroke="#f56b5c" d="M1023 690h0M1508 908h0M1482 807h0"/>
<path stroke="#fec88c" d="M1479 922h0"/>
<path stroke="#2a115c" d="M1703 636h0"/>
<path stroke="#762181" d="M533 558h0M1512 871h0M796 502h0M1086 593h0M1395 558h0M1214 530h0M1035 796h0M1046 1118h0M780 949h0M982 700h0M1245 630h0M1431 700h0M1057 1119h0M1516 595h0M1177 705h0M1450 942h0M1210 988h0M988 247h0M1162 569h0M869 527h0M729 808h0M1377 581h0M746 469h0M502 699h0M1405 837h0M956 966h0M1409 478h0M1121 764h0M984 777h0M717 834h0M752 794h0M1369 687h0M1253 408h0M355 1002h0M1053 473h0M776 555h0M1101 602h0M697 659h0M1229 560h0M1247 999h0M1295 408h0M1099 442h0M717 576h0M441 902h0M1051 622h0M1286 677h0M1291 969h0M1271 530h0M1493 831h0M783 558h0M445 945h0M768 654h0M1220 743h0M420 924h0M1352 469h0M1310 605h0M1218 348h0M1475 675h0M947 683h0M404 987h0M1135 592h0M1467 970h0M744 860h0M344 941h0M1420 623h0M769 545h0M595 672h0M448 936h0M1198 564h0M696 781h0"/>
<path stroke="#c73d73" d="M1389 933h0M824 623h0M1432 1017h0M558 929h0M1399 682h0M365 990h0M1069 878h0M1185 655h0M1136 623h0M1469 921h0M781 751h0M1139 704h0M998 949h0M828 802h0M1028 914h0M1007 943h0M721 292h0M935 847h0M1281 571h0"/>
<path stroke="#000004" d="M1309 798h0M1571 540h0M1440 741h0M982 394h0M1164 546h0M921 966h0M1119 395h0M1323 601h0M845 418h0M873 457h0M977 409h0M1127 647h0M1215 643h0M935 1047h0M717 484h0M1299 553h0M1310 519h0M1217 341h0M1421 1013h0M471 1005h0M1180 403h0M1408 915h0M801 503h0M1407 484h0M1592 530h0M973 331h0M1061 1136h0M985 236h0M644 357h0M841 635h0M489 532h0M1165 467h0M865 1129h0M734 442h0M1044 385h0M716 846h0M380 987h0M783 269h0M765 500h0M1428 468h0M1040 588h0M882 491h0M1448 793h0M970 514h0M1184 694h0M1276 356h0M727 438h0M861 733h0M1198 644h0M606 679h0M964 526h0M857 821h0M1397 449h0M449 561h0M1043 1099h0M1572 549h0M470 667h0M748 880h0M863 393h0M302 849h0M1323 638h0M794 610h0M1015 892h0M1126 509h0M1299 757h0M608 494h0M658 978h0M1408 549h0M483 865h0M1234 538h0M903 314h0M941 477h0M604 538h0M436 877h0M879 423h0M1576 479h0M1632 525h0M1029 599h0M722 950h0M623 411h0M727 555h0M1116 432h0M1136 668h0M911 281h0M1450 452h0M1489 632h0M587 499h0M745 635h0M810 410h0M894 307h0M1173 693h0M579 805h0M893 234h0M1371 600h0M1639 512h0M1359 419h0M1290 474h0M836 670h0M1284 574h0M1630 532h0M356 905h0M617 492h0M678 975h0M688 416h0M1419 665h0M606 557h0M1204 350h0M1164 665h0M1115 936h0M1518 472h0M1179 968h0M1362 621h0M787 710h0M548 613h0M685 475h0M676 490h0M704 822h0M1480 529h0M466 571h0M1037 975h0M1100 351h0M1172 903h0M1112 396h0M1655 636h0M1060 453h0M1615 502h0M614 742h0M1094 314h0M1047 510h0M1425 680h0M1141 535h0M588 717h0M417 992h0M691 483h0M912 833h0M1319 467h0M525 559h0M1264 925h0M1299 456h0M836 456h0M837 269h0M987 503h0M1275 505h0M1370 475h0M1210 706h0M774 1175h0M997 839h0M631 475h0M928 448h0M1451 564h0M714 313h0M968 883h0M907 1041h0M1147 549h0M1240 555h0M522 583h0M554 523h0M1085 275h0M1638 739h0M810 549h0M712 666h0M1060 601h0M1518 397h0M617 456h0M655 480h0M1476 621h0M781 951h0M1615 517h0M348 924h0M1127 573h0M910 355h0M1446 519h0M537 522h0M518 724h0M1304 935h0M1400 652h0M638 511h0M1140 586h0M1077 626h0M728 953h0M1533 509h0M842 500h0M844 568h0M1388 508h0M655 853h0M839 432h0M1479 845h0M1606 776h0M1178 672h0M1424 733h0M1279 482h0M1400 397h0M1440 532h0M1215 512h0M1291 571h0M1180 947h0M359 994h0M1143 614h0M971 453h0M704 577h0M584 556h0M1574 548h0M1622 547h0M1183 378h0M1364 520h0M930 770h0M1038 715h0M950 782h0M723 433h0M662 504h0M837 529h0M1111 425h0M830 566h0M1032 298h0M1346 939h0M507 983h0M510 582h0M527 561h0M1046 543h0M480 673h0M1190 611h0M1535 525h0M298 842h0M1104 414h0M1155 377h0M785 273h0M482 691h0M1415 489h0M338 908h0M1013 401h0M475 1008h0M540 971h0M734 544h0M1153 470h0M798 729h0M1381 536h0M617 493h0M1401 532h0M821 546h0M1139 451h0M647 464h0M1629 512h0M786 1171h0M1217 477h0M1129 405h0M607 775h0M1571 481h0M1636 740h0M893 1142h0M1077 446h0"/>
<path stroke="#9e2f7f" d="M543 729h0M1238 680h0M303 859h0M1501 861h0M460 538h0M577 528h0M701 713h0M1366 719h0M1541 799h0M919 342h0M1190 906h0M551 495h0M492 967h0M975 950h0M479 589h0M1137 518h0M1222 646h0M655 343h0M1231 575h0M1430 657h0M878 889h0M1383 687h0M1069 763h0M770 299h0M341 976h0M1042 496h0M1287 525h0M778 707h0M879 651h0M431 1016h0M911 811h0M1203 601h0M1392 925h0M850 1136h0M1182 522h0M1434 908h0M1157 657h0M1353 524h0M454 910h0"/>
<path stroke="#4e117b" d="M503 886h0M339 918h0M1277 434h0M973 1114h0M435 989h0M541 525h0M836 1106h0M1011 972h0M504 949h0M1642 556h0M920 802h0M1023 450h0M896 288h0M1345 988h0M841 1116h0M745 557h0M1239 782h0M1397 484h0M359 993h0M1075 682h0M1092 550h0M1379 997h0M669 941h0M455 589h0M357 881h0M900 1100h0M860 945h0M911 315h0M390 1019h0M953 1122h0M1565 426h0M1172 588h0M1162 556h0M1043 1097h0M885 1101h0M365 880h0M1202 936h0M1028 447h0M970 1035h0M1413 889h0M985 979h0M785 855h0M441 917h0M820 445h0M649 701h0M537 873h0M1504 417h0M1463 990h0M1132 417h0M723 559h0M820 704h0M836 614h0M384 945h0M1441 929h0M552 881h0M721 426h0M1286 657h0M686 521h0M885 266h0M664 433h0M1340 621h0M807 354h0M1208 997h0M563 547h0M782 1165h0M683 948h0M1048 544h0M1440 417h0M816 824h0M824 298h0M634 529h0M854 1085h0M1302 564h0M460 594h0M927 1115h0M890 1111h0M1161 600h0M429 1024h0M965 591h0M1245 568h0M1084 614h0M1194 618h0M870 470h0M941 698h0M850 587h0M1457 986h0M766 455h0M922 1048h0M1348 575h0M913 878h0M1100 950h0M515 952h0M714 383h0M1193 724h0M955 879h0M1637 521h0M978 1030h0M467 557h0M560 736h0"/>
<path stroke="#f9795d" d="M1393 989h0M1275 733h0M729 736h0M1242 959h0M1532 894h0M738 671h0"/>
<path stroke="#400f74" d="M717 852h0M1137 560h0M355 919h0M370 983h0M1575 837h0M900 775h0M843 252h0M658 425h0M435 1010h0M1476 556h0M1168 991h0M1141 525h0M1588 491h0M1124 487h0M1465 714h0M1051 540h0M1344 579h0M753 1147h0M910 1057h0M444 593h0M1372 998h0M1535 506h0M1544 453h0M804 812h0M713 462h0M789 626h0M1336 691h0M955 851h0M787 656h0M783 357h0M1144 976h0M570 671h0M959 363h0M761 440h0M1561 442h0M458 1016h0M943 514h0M1042 1127h0M420 920h0M1079 362h0M1433 698h0M1281 1004h0M768 1112h0M522 675h0M877 451h0M470 873h0M646 686h0M1447 670h0M528 713h0M935 309h0M1603 608h0M369 897h0M1118 591h0M1468 504h0M986 1039h0M1093 461h0M1257 515h0M1136 736h0M1239 642h0M570 643h0M467 550h0M664 673h0M669 976h0M651 751h0M1370 491h0M475 562h0M983 470h0M1263 985h0M1381 669h0M1111 709h0M1474 523h0M781 793h0M1053 1120h0M676 743h0M739 730h0M455 943h0M699 689h0M1069 661h0M1008 649h0M1130 533h0M1354 508h0M1540 884h0M859 457h0M1338 500h0M614 431h0M473 1006h0M985 881h0M1617 576h0M730 615h0M709 407h0M799 692h0M531 715h0M696 620h0M1467 994h0M1261 549h0M555 544h0M1186 499h0M1039 1111h0M1371 549h0M1160 480h0M966 794h0M1469 754h0M1003 834h0M378 1006h0M1374 716h0M1383 557h0M1035 805h0M763 819h0M1108 684h0M1077 631h0M829 575h0M1640 553h0M948 879h0M509 967h0M1108 556h0M1101 784h0M967 1112h0M507 564h0M660 938h0M746 284h0M828 606h0M414 918h0M929 975h0M1105 429h0M685 564h0M871 623h0M1495 530h0M799 747h0M1430 970h0M287 831h0M888 249h0"/>
<path stroke="#902a81" d="M361 877h0M757 615h0M821 897h0M430 932h0M1329 606h0M510 610h0M895 734h0M936 566h0M1440 902h0M475 994h0M972 648h0M700 652h0M967 497h0M843 256h0M804 424h0M1116 550h0M1189 557h0"/>
<path stroke="#e55064" d="M1335 927h0M1520 543h0M1423 1016h0M1546 870h0M1261 934h0M1247 1028h0M1279 1019h0M1399 941h0M1352 1000h0M719 530h0M1486 873h0M1390 991h0M558 697h0M1495 853h0M1546 906h0M829 835h0"/>
<path stroke="#b2357b" d="M1397 1036h0M533 516h0M1412 713h0M1407 970h0M1180 976h0M557 541h0M527 986h0M1072 757h0M1193 918h0M1374 915h0M867 1101h0M1428 667h0M730 595h0M460 564h0M798 703h0M1174 724h0M555 635h0M780 489h0M1026 846h0M724 305h0M1267 554h0"/>
<path stroke="#ab337c" d="M936 367h0M1101 735h0M288 810h0M1058 704h0M1395 936h0M1365 837h0M1148 659h0M895 971h0M534 745h0M1256 1001h0M1448 465h0M1540 901h0M618 962h0M1300 923h0M563 502h0M476 934h0M1631 509h0M499 981h0M1201 539h0M667 415h0M1594 670h0M1407 879h0M381 961h0M1257 497h0"/>
<path stroke="#471078" d="M575 933h0M561 509h0M539 476h0M969 912h0M465 565h0M651 315h0M736 586h0M1108 423h0M1507 642h0M661 454h0M1539 563h0M776 528h0M697 422h0M595 479h0M891 1053h0M950 727h0M1034 902h0M1032 797h0M1115 555h0M1656 541h0M783 886h0M542 993h0M822 552h0M1225 595h0M1275 942h0M537 978h0M780 612h0M1182 798h0M861 1124h0M1256 708h0M1447 567h0M290 819h0M1261 725h0M946 239h0M999 240h0M990 1101h0M1348 550h0M1334 465h0M1194 677h0M887 1157h0M1121 583h0M937 627h0M1171 638h0M1295 633h0M1216 569h0M1307 541h0M1288 454h0M754 772h0M1061 1115h0M744 1141h0M1635 758h0M1174 932h0M914 670h0M1310 704h0M1155 497h0M1320 537h0M407 971h0M1156 676h0M1012 723h0M989 804h0M939 914h0M925 1116h0M680 480h0M886 601h0M942 829h0M904 452h0M1419 954h0M903 1143h0M468 868h0M1415 502h0M515 655h0M1023 660h0M446 943h0M1176 909h0M920 514h0M540 548h0M584 669h0M996 589h0M1628 537h0M643 754h0M1248 587h0M673 680h0M1422 672h0M1313 459h0M1198 679h0M1253 472h0M788 850h0M586 556h0M879 508h0M1276 374h0M1392 644h0M1629 775h0M815 611h0M1303 494h0M1244 549h0M996 1110h0M536 963h0M465 565h0M783 835h0M1084 405h0M496 565h0M1128 439h0M1655 549h0M945 877h0M967 962h0M1214 714h0M770 1172h0M1443 588h0M1449 548h0M1144 995h0M920 700h0M1221 647h0M747 743h0M1286 548h0M1025 890h0M831 561h0M723 752h0M1440 1001h0M1490 568h0M515 632h0M665 671h0M1366 669h0M1362 398h0M1247 723h0M528 526h0M1058 1123h0M650 417h0M345 950h0M736 1131h0M939 419h0M1208 605h0M1446 973h0M1223 437h0M469 908h0M487 970h0M810 496h0M835 926h0M1095 582h0M520 972h0M1196 582h0M956 500h0M1222 343h0M1204 376h0M875 517h0M1189 546h0M1041 598h0M1057 1126h0M784 1145h0M665 974h0M1628 537h0M897 1049h0M1070 513h0M1007 1136h0M1348 483h0M629 535h0M542 667h0M977 939h0M416 923h0M1609 515h0M1163 670h0M333 893h0M565 758h0M438 574h0M1183 725h0M338 893h0M899 615h0M1360 608h0M765 627h0M1108 545h0M1377 431h0M499 518h0M653 722h0M1299 672h0M942 978h0"/>
<path stroke="#ba3878" d="M842 570h0M1213 1025h0M1538 464h0M1093 724h0M1134 590h0M1056 678h0M1565 855h0M1018 910h0M499 1008h0M1054 1118h0M730 1132h0M355 980h0M465 616h0M1110 749h0M1240 355h0M514 931h0M736 665h0M1506 934h0M1659 666h0M513 979h0M1399 537h0M1197 999h0M1413 969h0M574 452h0"/>
<path stroke="#56147d" d="M1390 756h0M1040 752h0M997 644h0M1631 765h0M911 533h0M1527 609h0M1395 876h0M1121 883h0M1516 404h0M1210 556h0M780 457h0M1343 628h0M958 843h0M1238 721h0M462 930h0M1300 695h0M836 588h0M1253 530h0M474 1002h0M676 670h0M926 1119h0"/>
<path stroke="#7c2382" d="M544 950h0M788 811h0M1391 674h0M664 538h0M643 976h0M1438 937h0M520 695h0M725 685h0M1325 399h0M1059 568h0M782 387h0M578 947h0M500 887h0M1140 649h0M550 766h0M1264 1025h0M1356 414h0M1415 960h0M861 437h0M922 241h0M822 431h0M1424 570h0M704 307h0M1152 684h0M914 905h0M1670 574h0M1297 597h0M1094 657h0M1059 972h0M1100 701h0M780 772h0M539 521h0M748 531h0M1094 781h0M1296 702h0M1062 977h0M718 443h0M1113 642h0M988 1062h0M1103 621h0M465 965h0M761 610h0M940 895h0M1026 1130h0M953 247h0M613 435h0M751 661h0M1258 594h0M1165 549h0M537 596h0M1175 432h0M1259 367h0M1193 601h0M884 973h0M878 893h0M851 826h0M1469 952h0M1442 554h0M620 763h0M1229 887h0M1060 987h0M1394 635h0M1056 1118h0M771 647h0M1489 795h0M503 993h0M1264 581h0M654 857h0M769 1177h0M790 642h0M384 883h0M961 479h0M954 769h0M1124 535h0M1573 821h0M1398 885h0M1109 562h0M1288 550h0M469 599h0M1069 616h0M1122 429h0M1119 573h0M1050 1061h0M1233 361h0M519 634h0M486 996h0M661 430h0M790 278h0M1261 579h0M795 892h0M985 830h0M665 412h0M646 975h0"/>
<path stroke="#832681" d="M563 763h0M876 473h0M620 652h0M1214 965h0M923 837h0M1241 529h0M662 695h0M741 310h0M1646 730h0M822 631h0M1315 723h0M1022 265h0M1191 999h0M1515 939h0M1174 364h0M1161 921h0M779 548h0M738 590h0M621 526h0M1578 765h0M1421 499h0M456 596h0M903 400h0M927 581h0M842 493h0M378 976h0M723 666h0M1134 511h0M974 518h0M921 566h0M711 1127h0M1361 991h0M1406 936h0M709 419h0M803 699h0M1188 753h0M748 425h0M1414 593h0M546 980h0M910 673h0M1341 545h0M1257 710h0M771 707h0M647 492h0M1361 547h0M1315 537h0M1515 896h0M716 408h0M1096 263h0M1381 556h0M423 1019h0M1177 729h0M451 881h0M901 1108h0M1475 927h0M929 961h0M477 534h0M1228 574h0M1065 461h0M1020 681h0M420 858h0M961 533h0M545 525h0M1450 577h0M1082 620h0M871 774h0M681 554h0M975 979h0M673 491h0M851 1117h0M1663 690h0M428 899h0M1274 606h0M764 683h0M1089 571h0M1098 263h0M714 522h0M1375 1010h0M1184 517h0"/>
<path stroke="#892881" d="M905 1111h0M653 798h0M788 897h0M716 736h0M837 1099h0M812 710h0M558 973h0M891 743h0M721 444h0M1595 544h0M1137 492h0M918 1058h0M460 571h0M790 686h0M725 668h0M799 259h0M919 395h0M1577 796h0M755 841h0M614 442h0M1172 472h0M1117 577h0M1127 518h0M1293 563h0"/>
<path stroke="#cd4071" d="M671 671h0M1356 768h0M1079 710h0M755 900h0M672 526h0M884 968h0M1483 683h0M1272 804h0M1553 460h0M437 597h0M1290 963h0M1161 674h0M1092 704h0M683 794h0M915 636h0M651 864h0M617 613h0M415 1013h0M1609 755h0M766 809h0M1214 703h0"/>
<path stroke="#fec185" d="M1372 833h0"/>
<path stroke="#982d80" d="M1491 982h0M1546 695h0M513 904h0M1493 895h0M1416 623h0M705 654h0M1201 653h0M826 828h0M906 1100h0M889 261h0M483 531h0M1258 424h0M1547 554h0M1011 958h0M1393 556h0M679 416h0M1213 490h0M756 891h0M490 943h0M1294 620h0M1367 913h0M914 579h0"/>
<path stroke="#6e1e81" d="M412 1016h0M1344 542h0M1011 251h0M860 563h0M572 777h0M1037 1124h0M1081 994h0M942 769h0M618 525h0M784 262h0M1286 610h0M1535 402h0M1498 537h0M1345 479h0M1638 507h0M1648 685h0M1087 774h0M1411 990h0M960 522h0M1632 595h0M484 687h0M1080 263h0M1096 298h0M501 1000h0M1015 882h0M474 574h0M1046 439h0M572 776h0M1433 483h0"/>
<path stroke="#c03a76" d="M1424 923h0M1325 932h0M1102 658h0M484 1003h0M660 971h0M1396 826h0M1313 923h0M758 625h0M1286 719h0M521 495h0M1177 1012h0M1304 910h0M1325 1015h0M1280 996h0M1273 1036h0M900 712h0M1447 943h0M1087 951h0M1222 668h0M364 872h0M1291 492h0M1484 826h0M595 482h0M1595 773h0"/>
<path stroke="#5c167f" d="M1026 493h0M840 1099h0"/>
<path stroke="#a5317e" d="M1416 685h0M607 507h0M1322 892h0M931 848h0M646 588h0M1158 728h0M1475 942h0M753 866h0M1703 625h0M611 465h0M1346 389h0M446 950h0M741 788h0M1050 635h0M1093 670h0M1111 597h0M1389 669h0M1168 1001h0M1207 626h0M750 736h0M671 530h0M756 601h0M758 1133h0M544 635h0M854 311h0M1370 728h0M746 656h0"/>
<path stroke="#fc8961" d="M1444 888h0M435 1023h0M693 666h0M1068 660h0"/>
<path stroke="#331067" d="M1059 635h0M1568 594h0M886 887h0M1044 910h0"/>
<path stroke="#390f6e" d="M1578 449h0M491 903h0M689 442h0M1197 648h0M1218 983h0M821 420h0M648 486h0M1229 749h0M1171 638h0M771 1179h0M1086 483h0M1484 616h0M372 1008h0M828 1093h0M779 619h0M999 1127h0M601 503h0M1642 593h0M1583 531h0M879 979h0M1109 665h0M928 1047h0M1121 394h0M559 611h0M1322 498h0M966 260h0M1187 565h0M906 458h0M1027 1119h0M972 831h0M996 462h0M889 267h0M1475 438h0M754 277h0M879 1072h0M662 317h0M740 509h0M835 690h0M1233 642h0"/>
<path stroke="#d9466b" d="M525 959h0M1069 948h0M824 254h0M762 630h0M1488 956h0M623 738h0M708 961h0M933 851h0M674 644h0M639 840h0M1356 1020h0M1402 1005h0M1536 922h0M1322 844h0M1125 775h0M1465 934h0M709 671h0M1409 588h0"/>
<path stroke="#ee5b5e" d="M1349 655h0M1444 798h0M1414 942h0M609 967h0M1536 880h0M1519 917h0M1079 729h0"/>
<path stroke="#d3436e" d="M1534 858h0M1442 1012h0M765 805h0M731 738h0M481 1003h0M1412 1023h0M1221 541h0M574 572h0M552 742h0M1521 522h0M963 843h0M694 733h0M581 956h0M684 851h0M1260 873h0M1448 917h0M1276 940h0M645 532h0"/>
<path stroke="#f56b5c" d="M1436 921h0M1467 906h0M1125 901h0M575 679h0M947 949h0M609 662h0"/>
<path stroke="#fa815f" d="M1502 931h0M1353 1001h0M1505 931h0M1392 1010h0M498 940h0M1142 739h0M1416 730h0M941 743h0M363 1006h0M1611 760h0"/>
<path stroke="#ea5661" d="M1557 827h0M697 679h0M1485 981h0M1442 981h0M624 757h0M1509 898h0M764 1187h0M932 613h0M1384 530h0"/>
<path stroke="#e04c67" d="M771 692h0M984 449h0M719 692h0M1487 910h0M743 685h0M1554 830h0M1039 919h0M1378 1003h0M1446 982h0M692 736h0M1321 715h0M1130 742h0M1020 719h0M1508 959h0M658 467h0"/>
<path stroke="#fea973" d="M690 952h0M1488 906h0M1507 882h0"/>
<path stroke="#f2625d" d="M1481 847h0M1411 960h0M1366 947h0M868 785h0M1130 790h0"/>
<path stroke="#621980" d="M719 718h0M1188 987h0M1186 520h0"/>
<path stroke="#681c81" d="M710 494h0M1083 565h0M1326 591h0M1164 763h0M693 300h0M459 559h0M1367 1020h0M698 391h0M904 979h0"/>
<path stroke="#f7725c" d="M1441 866h0M1330 967h0M1299 763h0M665 962h0M839 955h0M1082 676h0"/>
<path stroke="#feb97f" d="M1438 937h0M1566 822h0"/>
<path stroke="#fd9a6a" d="M1349 1019h0M1044 705h0M1324 1037h0M717 609h0"/>
<path stroke="#fea16e" d="M707 613h0M1292 1005h0M969 962h0"/>
<path stroke="#fed799" d="M1435 817h0"/>
<path stroke="#fde0a1" d="M1516 862h0M1372 889h0"/>
<path stroke="#fec88c" d="M1483 844h0M1538 883h0"/>
<path stroke="#fd9266" d="M579 749h0M548 610h0"/>
<path stroke="#000004" d="M1557 523h0M1155 735h0M820 560h0M450 892h0M965 756h0M1121 475h0M834 399h0M1141 528h0M1631 732h0M1229 434h0M599 477h0M816 619h0M1393 732h0M917 574h0M625 467h0M1643 688h0M792 1098h0M420 926h0M776 1182h0M1360 535h0M1222 346h0M725 698h0M801 364h0M1565 657h0M852 436h0M640 346h0M502 871h0M1446 764h0M1327 404h0M438 951h0M1153 563h0M666 325h0M1098 369h0M823 310h0M658 413h0M1142 392h0M393 920h0M737 664h0M1160 767h0M1101 416h0M1479 493h0M578 668h0M456 576h0M1182 519h0M816 656h0M1062 671h0M1599 496h0M1291 560h0M771 971h0M1047 904h0M1479 446h0M1417 414h0M795 499h0M426 884h0M816 273h0M1354 1032h0M709 489h0M1283 566h0M566 754h0M425 1006h0M1442 512h0M1338 481h0M1575 571h0M990 1128h0M968 442h0M1378 511h0M1274 425h0M1250 540h0M1073 537h0M1331 604h0M1394 409h0M721 534h0M1337 389h0M514 978h0M1052 973h0M1345 533h0M859 564h0M468 870h0M778 627h0M590 770h0M1581 447h0M1337 433h0M1227 499h0M514 567h0M811 908h0M1229 539h0M967 433h0M1284 427h0M979 807h0M625 494h0M780 489h0M827 556h0M844 538h0M1222 449h0M1294 429h0M790 555h0M1633 533h0M1517 485h0M1226 501h0M1063 260h0M1479 695h0M526 598h0M619 751h0M1526 531h0M759 812h0M799 1159h0M925 425h0M1150 608h0M1316 449h0M1518 949h0M542 554h0M928 831h0M1127 989h0M1169 420h0M770 268h0M1578 533h0M1134 601h0M750 407h0M731 322h0M1211 601h0M494 866h0M1085 532h0M1026 438h0M1316 490h0M449 618h0M617 457h0M383 998h0M1407 423h0M347 898h0M1319 546h0M972 293h0M1316 447h0M988 247h0M498 919h0M441 1021h0M702 530h0M1175 395h0M1406 511h0M1418 1010h0M1236 609h0M1356 718h0M1218 368h0M1356 694h0M842 773h0M979 699h0M1050 1105h0M1021 708h0M1579 490h0M1388 565h0M1022 258h0M669 497h0M1405 444h0M1415 482h0M1285 644h0M876 1060h0M1026 260h0M881 412h0M349 937h0M1046 289h0M966 605h0M611 507h0M1335 400h0M1605 578h0M1191 558h0M694 449h0M588 594h0M523 970h0M900 978h0M1486 403h0M796 1169h0M462 613h0M1248 530h0M1623 616h0M1477 643h0M1221 1027h0M500 890h0M1129 402h0M1477 585h0M1011 1128h0M448 644h0M813 779h0M583 974h0M891 850h0M1000 479h0M375 924h0M581 466h0M365 955h0M1236 349h0M833 429h0M796 827h0M996 1145h0M462 889h0M1072 899h0M431 926h0M635 817h0M610 439h0M1704 701h0M1020 270h0M663 344h0M587 496h0M1649 699h0M1118 912h0M1294 465h0M538 528h0M1199 423h0M893 1107h0M1187 559h0M1613 634h0M768 568h0M1223 345h0M852 1105h0M939 373h0M944 454h0M647 512h0M1256 641h0M640 490h0M1014 281h0M1512 517h0M850 543h0M1257 519h0M744 1129h0M1098 272h0M906 567h0M677 486h0"/>
<path stroke="#6e1e81" d="M769 478h0M1192 676h0M495 707h0M1706 684h0M1023 1141h0M785 775h0M826 651h0M1091 636h0M1169 699h0M1069 440h0M663 556h0M1182 623h0M477 536h0M774 1171h0M1069 597h0M788 1164h0M1711 696h0M820 502h0M654 510h0M1344 528h0M1269 512h0M604 751h0M841 436h0M1328 575h0M1068 505h0M443 1017h0M1108 608h0M623 540h0M734 425h0M1714 681h0M1517 867h0M962 919h0M856 619h0M1084 568h0M1296 540h0M837 575h0M639 692h0M1086 594h0M1405 469h0M1039 416h0M1157 642h0M1398 538h0M1367 398h0M1089 678h0"/>
<path stroke="#832681" d="M1226 581h0M1133 611h0M769 1113h0M1026 635h0M719 960h0M679 313h0M449 886h0M1120 573h0M948 894h0M1114 545h0M893 1072h0M665 738h0M481 609h0M1351 551h0M897 616h0M508 696h0M544 610h0M1275 925h0M894 840h0M360 970h0M1148 633h0M1636 753h0M947 582h0M366 1005h0M912 952h0M745 678h0M1005 461h0M877 1108h0M1228 582h0M957 248h0M858 574h0M1550 603h0M604 457h0M1210 640h0M796 854h0M1553 553h0M1032 969h0M1263 676h0M1419 504h0M1075 629h0M1138 643h0M556 518h0M1534 861h0M797 259h0M856 541h0M1188 592h0M1616 766h0M754 560h0M1119 599h0M925 253h0M367 885h0M555 754h0M1083 281h0M1695 668h0M865 548h0M704 667h0M855 791h0M984 379h0M1134 949h0M446 621h0M844 1092h0M934 979h0M1352 590h0M1027 1121h0M1298 646h0M1432 455h0"/>
<path stroke="#4e117b" d="M460 989h0M1299 539h0M1072 656h0M378 896h0M875 1083h0M806 494h0M1448 635h0M1263 352h0M823 965h0M802 660h0M1047 527h0M579 513h0M670 510h0M589 612h0M1045 1134h0M384 909h0M918 971h0M1702 662h0M1112 796h0M1287 376h0M1042 544h0M1041 448h0M858 677h0M1012 504h0M1097 405h0M1119 478h0M503 981h0M1243 986h0M863 1147h0M1231 572h0M387 931h0M618 502h0M1292 692h0M1291 415h0M474 544h0M605 796h0M1391 585h0M775 1151h0M1098 704h0M1249 639h0M704 580h0M432 1022h0M1530 404h0M1127 370h0M730 1122h0M1250 629h0M1422 507h0M834 267h0M1156 483h0M491 603h0M551 922h0M1365 478h0M1016 811h0M786 637h0M1323 686h0M1262 742h0M1432 718h0M1655 576h0M1691 693h0M777 1176h0M1063 507h0M740 319h0M676 496h0M1390 705h0M1392 1008h0M1637 517h0M1488 572h0M1056 1104h0M1035 254h0M1022 464h0M748 606h0M374 938h0M1048 1113h0M1586 817h0M850 1137h0M670 417h0M1122 567h0M1304 514h0M702 708h0M1593 516h0M838 552h0M1161 403h0M1192 613h0M1491 980h0M402 876h0M1023 507h0M738 713h0M1402 447h0M888 1159h0M1512 569h0M819 584h0M985 236h0M1373 617h0M1450 532h0M523 987h0M521 565h0M1342 964h0"/>
<path stroke="#d9466b" d="M876 753h0M1474 860h0M1097 662h0M1366 927h0M1356 995h0M766 622h0M1083 712h0M622 786h0M757 606h0M1472 796h0M1590 755h0M711 426h0M849 841h0M1267 1004h0M1385 801h0M1480 856h0M891 963h0M489 1010h0M1506 902h0M818 734h0M1253 669h0M1377 927h0"/>
<path stroke="#7c2382" d="M1156 742h0M556 956h0M817 578h0M828 678h0M805 818h0M1195 587h0M1357 478h0M1227 358h0M1469 590h0M875 648h0M1234 361h0M1205 647h0M979 1109h0M1098 655h0M1344 405h0M1489 449h0M1120 728h0M1002 978h0M946 704h0M898 1139h0M769 669h0M1171 525h0M1497 424h0M1486 536h0M859 722h0M1210 638h0M636 483h0M1079 590h0M898 409h0M853 971h0M1052 357h0M821 429h0M837 255h0M713 676h0M513 930h0M1487 793h0M1633 751h0M1316 943h0M1333 669h0M1363 687h0M1345 403h0M1211 637h0M1528 547h0M910 844h0M404 932h0M765 588h0M1412 531h0M721 610h0M441 896h0M1100 562h0M1664 568h0M1143 898h0M972 819h0M774 631h0M899 951h0M952 898h0M646 431h0M1280 1028h0M860 950h0M1107 497h0M1102 671h0M803 418h0M1249 1008h0M897 1071h0M1498 563h0M1304 529h0M1574 505h0M1371 527h0M981 760h0M1117 565h0M766 819h0M1031 243h0M1526 509h0M1236 523h0M1142 692h0M1169 496h0M411 1005h0"/>
<path stroke="#fd9a6a" d="M1502 852h0M1369 929h0M1458 915h0"/>
<path stroke="#ea5661" d="M1465 955h0M1404 757h0M1225 670h0M1014 944h0M576 753h0M1320 820h0"/>
<path stroke="#c03a76" d="M571 584h0M474 905h0M988 642h0M1354 782h0M398 1029h0M1043 846h0M942 1077h0M1311 690h0M1481 924h0M1388 869h0M1094 774h0M584 553h0M1184 809h0M1327 670h0M947 900h0M848 684h0M933 959h0M494 966h0M777 275h0M1009 782h0M954 249h0M1347 1012h0M674 937h0M1392 884h0M745 875h0M935 947h0M789 906h0M717 629h0M548 680h0M1198 632h0M743 617h0M1327 953h0M1225 927h0M490 987h0M1337 907h0M1502 882h0M1396 630h0M1465 959h0M928 957h0"/>
<path stroke="#390f6e" d="M732 709h0M807 577h0M775 1148h0M1049 534h0M1265 933h0M1344 634h0M457 888h0M1120 620h0M1186 642h0M1367 874h0M1569 533h0M1057 382h0M1245 596h0M1590 585h0M830 1081h0M1138 740h0M733 614h0M479 570h0M911 825h0M886 1149h0M905 408h0M823 816h0M1213 781h0M1064 598h0M1138 773h0M1158 634h0"/>
<path stroke="#902a81" d="M694 595h0M687 699h0M747 559h0M1313 400h0M646 522h0M1505 609h0M872 532h0M1520 843h0M478 597h0M844 248h0M1162 593h0M1123 942h0M1451 551h0M1212 587h0M1270 548h0M1448 941h0M774 381h0M1514 584h0M826 256h0"/>
<path stroke="#400f74" d="M1568 552h0M1488 989h0M719 750h0M959 829h0M1488 524h0M788 262h0M656 715h0M450 926h0M1317 919h0M850 445h0M779 1165h0M1117 547h0M638 687h0M972 653h0M533 932h0M560 893h0M430 1005h0M1184 655h0M1287 809h0M362 991h0M863 570h0M1299 707h0M1032 252h0M1238 489h0M1534 487h0M1337 537h0M594 697h0M1095 447h0M458 996h0M1211 334h0M1531 485h0M848 1108h0M1071 967h0M775 1130h0M954 906h0M1290 563h0M1623 544h0M1140 415h0M739 564h0M312 846h0M799 743h0M457 573h0M1394 650h0M566 534h0M783 1181h0M1208 708h0M410 895h0M688 850h0M794 756h0M1042 397h0M1034 623h0M1590 696h0M847 516h0M1315 608h0M1359 646h0M766 704h0M649 343h0M1581 508h0M1344 540h0M859 1092h0M1412 597h0M1136 638h0M1333 393h0M1110 636h0M770 658h0M1095 261h0M883 239h0M746 899h0M1132 910h0M567 712h0M729 899h0M435 898h0M841 447h0M1072 386h0M438 607h0M361 864h0M1370 644h0M763 284h0M1018 445h0M1531 471h0M530 541h0M1479 803h0M1183 950h0M599 790h0M1024 495h0M659 823h0M724 481h0M943 951h0M660 515h0M1024 718h0M782 576h0M1124 558h0M1055 1099h0M614 756h0M928 803h0M673 741h0M1586 650h0M1031 704h0M1461 739h0M1051 1100h0M1106 975h0M762 576h0M1056 1126h0M690 469h0M1120 800h0M1194 575h0M1383 737h0M1472 529h0M853 1095h0M805 904h0M1241 545h0M849 661h0M1055 719h0M917 545h0M1448 642h0M939 244h0M1127 396h0M518 989h0M1183 944h0M827 644h0M1561 549h0M761 667h0M718 726h0M766 845h0M1267 653h0M1159 522h0M517 908h0M548 653h0"/>
<path stroke="#762181" d="M971 605h0M1280 571h0M1448 532h0M783 956h0M1470 590h0M1442 1007h0M570 926h0M931 608h0M1698 619h0M911 884h0M868 593h0M369 1016h0M1269 573h0M1121 529h0M841 852h0M1395 609h0M979 961h0M1403 851h0M1203 538h0M885 1150h0M977 885h0M1261 757h0M1218 615h0M767 431h0M1021 427h0M836 845h0M779 556h0M650 355h0M525 611h0M862 600h0M629 956h0M956 474h0M1121 533h0M1472 848h0M1108 385h0M459 631h0M1074 989h0M1154 563h0M789 1185h0M355 989h0M1563 468h0M1405 948h0M984 727h0M1197 527h0M1516 480h0M710 493h0M736 447h0M1693 586h0M784 612h0M1105 630h0M414 852h0M1255 667h0M1556 534h0M497 616h0M1123 660h0M1090 265h0M829 900h0M1148 400h0M612 470h0M1031 276h0M718 761h0M1016 747h0M1616 570h0M1300 956h0M1228 625h0"/>
<path stroke="#e55064" d="M1389 959h0M573 634h0M829 1101h0M1277 877h0M1380 866h0M1384 951h0M1212 810h0M1386 651h0M841 459h0M690 938h0M1497 938h0M1422 1005h0M1457 861h0M1436 921h0M690 722h0"/>
<path stroke="#471078" d="M1535 468h0M774 604h0M1009 1047h0M1123 614h0M671 401h0M636 843h0M749 691h0M491 586h0M1201 911h0M1171 654h0M1198 559h0M1299 994h0M1309 867h0M773 293h0M675 542h0M899 232h0M854 769h0M1102 468h0M1004 655h0M1358 786h0M1143 672h0M849 419h0M934 260h0M471 616h0M361 985h0M297 842h0M1145 578h0M653 477h0M1042 642h0M1164 956h0M658 516h0M1419 591h0M1386 429h0M1195 540h0M1008 242h0M1388 389h0M811 733h0M1210 754h0M1475 955h0M1130 531h0M1145 681h0M781 260h0M488 868h0M1556 758h0M1656 534h0M767 659h0M579 947h0M1514 625h0M941 980h0M1016 976h0M1384 890h0M1326 962h0M1131 651h0M695 451h0M674 641h0M889 383h0M681 448h0M691 305h0M621 502h0M1587 454h0M1167 359h0M1059 1072h0M723 775h0M821 275h0M494 993h0M904 851h0M503 897h0M1202 563h0M1075 578h0M1536 901h0M1397 517h0M779 1192h0M299 839h0M1017 732h0M1039 404h0M1584 610h0M1389 549h0M1421 712h0M664 440h0M589 578h0M1234 736h0M1394 956h0M844 1097h0M1490 514h0M1287 635h0M826 673h0M789 440h0M866 691h0M1304 469h0M709 650h0M924 1055h0M1213 640h0M407 1016h0M708 693h0M389 1007h0M1208 645h0M1059 722h0M687 537h0M1067 669h0M1045 983h0M464 621h0M1542 747h0M1440 556h0M449 914h0M839 1099h0M1408 560h0M528 727h0M878 678h0M1505 532h0M656 576h0M874 607h0M1158 444h0M553 761h0M805 299h0M1318 706h0M1385 551h0M523 540h0M915 444h0M504 716h0M371 968h0M1178 750h0M1242 592h0M784 600h0M660 602h0M830 252h0M1343 599h0M718 704h0M1040 926h0M1331 503h0M1331 510h0M948 1055h0M1212 590h0M1016 467h0M1315 544h0M782 597h0M1158 515h0M1352 552h0M865 493h0M702 755h0M419 1007h0M886 258h0M1252 597h0M1050 843h0M1341 545h0M1393 611h0M519 601h0M504 719h0M434 897h0M1161 656h0M1259 646h0M386 963h0M1370 648h0M802 408h0M362 881h0M1249 623h0M1546 880h0M1177 744h0M1049 879h0M1190 988h0M1427 681h0M376 865h0M611 469h0M988 819h0M1102 271h0M686 295h0M1350 584h0M698 539h0M510 538h0M612 966h0M1299 557h0M1534 471h0M1223 641h0M1103 963h0"/>
<path stroke="#cd4071" d="M334 912h0M1000 905h0M1356 925h0M992 1063h0M1112 669h0M637 727h0M1132 752h0M861 748h0M386 891h0M1129 664h0M398 945h0M728 595h0M1669 713h0M1454 992h0M383 1002h0M1309 548h0M1144 722h0M713 657h0M974 791h0M1132 539h0M804 664h0"/>
<path stroke="#fea973" d="M1300 993h0M482 918h0M1319 732h0M654 947h0M1512 960h0M1241 991h0"/>
<path stroke="#d3436e" d="M1046 896h0M1404 662h0M1419 882h0M1209 345h0M1433 938h0M1260 729h0M667 567h0M1348 714h0M1208 570h0M1447 995h0M960 758h0M1070 651h0M1149 890h0M510 979h0M727 618h0"/>
<path stroke="#56147d" d="M503 714h0M531 562h0M579 626h0M1136 947h0M1526 570h0M1009 825h0M621 974h0M1647 524h0M650 789h0M768 883h0M1657 661h0M1392 512h0M891 505h0M1497 499h0M823 548h0M1140 919h0M1426 476h0M1194 632h0M374 930h0M1555 511h0M671 309h0M911 612h0M1426 435h0M1121 392h0M1257 589h0M1376 562h0M1576 494h0"/>
<path stroke="#ab337c" d="M1526 817h0M1273 599h0M1583 810h0M641 489h0M525 979h0M1301 1011h0M1457 899h0M458 948h0M1415 860h0M1130 555h0M1295 626h0M353 929h0M1022 760h0M1007 778h0M755 683h0M506 873h0M756 731h0M689 956h0M496 906h0M1439 835h0M352 926h0M1063 423h0M754 1144h0M1623 736h0M1122 604h0M928 685h0M1147 373h0M1025 644h0M709 626h0M1130 413h0M1298 472h0M498 934h0M1326 973h0M1280 911h0M1453 668h0M1286 525h0M684 487h0M1588 816h0M508 931h0"/>
<path stroke="#e04c67" d="M785 879h0M1525 940h0M1004 773h0M806 896h0M1525 887h0M1500 956h0M1371 903h0M1381 720h0M722 661h0M1223 671h0M855 942h0M562 953h0M699 629h0M595 705h0M699 878h0M1111 515h0M826 876h0M877 721h0"/>
<path stroke="#fa815f" d="M1195 870h0M1349 960h0M871 814h0M1450 987h0M1283 852h0"/>
<path stroke="#982d80" d="M1382 871h0M1147 686h0M971 440h0M744 724h0M1430 927h0M1048 460h0M462 631h0M927 735h0M515 736h0M1224 682h0M1190 692h0M828 922h0M1225 345h0M1041 271h0M676 527h0M361 924h0M1257 525h0M923 1042h0M1329 726h0M980 779h0M768 520h0M1132 790h0M1018 949h0M1233 717h0M1387 718h0M1096 520h0M768 576h0M896 836h0"/>
<path stroke="#681c81" d="M1048 744h0M888 535h0M896 461h0M862 256h0M1297 408h0M574 707h0M863 642h0M802 407h0M686 495h0"/>
<path stroke="#9e2f7f" d="M513 682h0M874 809h0M925 640h0M790 967h0M1130 873h0M1334 736h0M1173 683h0M1613 676h0M1124 655h0M1206 516h0M1255 533h0M473 626h0M757 603h0M1136 616h0M1367 1018h0M417 959h0M965 920h0M796 606h0M1320 501h0M526 887h0M1458 760h0M680 949h0M1472 997h0M441 623h0M937 980h0M949 1072h0M1199 695h0M777 1156h0M1144 618h0M1257 763h0M1406 703h0M540 699h0M1126 502h0M1203 550h0M1410 943h0M1351 514h0M699 462h0M794 548h0M757 427h0M652 511h0M1094 265h0"/>
<path stroke="#f9795d" d="M769 652h0M1484 837h0M1521 933h0M1426 922h0M1445 817h0M1430 984h0"/>
<path stroke="#892881" d="M1411 1011h0M1178 756h0M977 879h0M1388 534h0M1384 575h0M1373 578h0M440 598h0M867 1150h0M1251 1019h0M650 334h0M1528 854h0M1004 468h0M541 751h0M1130 603h0M668 573h0M1333 420h0M1025 528h0M893 1081h0M816 683h0M848 561h0M537 675h0M869 689h0M833 679h0M348 995h0M729 568h0M1237 765h0"/>
<path stroke="#331067" d="M983 686h0"/>
<path stroke="#a5317e" d="M1313 390h0M861 579h0M837 806h0M1314 548h0M694 304h0M860 302h0M1310 901h0M769 652h0M952 514h0M1418 934h0M1199 522h0M1432 907h0M1447 953h0M1424 494h0M617 451h0M534 627h0M422 963h0M969 969h0M592 950h0M1383 426h0M906 972h0M1489 520h0M787 724h0M1013 1056h0M1199 477h0M690 689h0M978 908h0M1084 676h0M1219 611h0M648 417h0M930 826h0M969 758h0M1335 476h0M453 596h0M1141 691h0M1425 501h0M1171 750h0"/>
<path stroke="#c73d73" d="M1378 704h0M805 974h0M881 788h0M834 427h0M924 843h0M673 964h0M354 965h0M1078 401h0M1411 929h0M1302 622h0M1338 652h0M536 626h0M1408 970h0M644 936h0M1486 820h0M1619 485h0M840 687h0M1255 667h0M847 972h0M1175 670h0M1062 876h0M654 754h0"/>
<path stroke="#b2357b" d="M832 411h0M842 879h0M982 831h0M1253 748h0M503 692h0M824 568h0M590 575h0M557 537h0M1040 529h0M882 1057h0M1387 646h0M971 237h0M1346 862h0M1192 519h0M1132 970h0M810 472h0M1403 937h0M1122 750h0M1250 1019h0M1085 617h0"/>
<path stroke="#feb078" d="M1163 971h0M1384 1035h0M1443 1000h0"/>
<path stroke="#fea16e" d="M1363 685h0M1148 741h0M1498 866h0M1179 1024h0M1317 655h0M705 722h0M1320 1012h0"/>
<path stroke="#ee5b5e" d="M1448 968h0M623 768h0M624 776h0M1440 866h0M1470 955h0M1371 995h0M1520 859h0M1297 872h0M935 903h0M1246 691h0M1123 724h0"/>
<path stroke="#ba3878" d="M1011 1032h0M1046 399h0M1256 806h0M983 568h0M674 676h0M679 659h0M1070 884h0M1432 1003h0M467 1013h0M680 310h0M955 782h0M883 846h0M1141 611h0M965 845h0M980 575h0M1381 849h0M1100 679h0M1442 907h0M447 594h0M745 617h0M670 935h0M1531 863h0M1483 731h0M1196 538h0M762 1179h0"/>
<path stroke="#fd9266" d="M1491 827h0M779 750h0M992 825h0M1455 882h0M638 754h0M1469 838h0"/>
<path stroke="#f7725c" d="M635 950h0M1127 945h0M1311 927h0M515 971h0M1325 1040h0M1431 944h0M1240 1016h0M767 738h0M1386 1017h0M1367 885h0"/>
<path stroke="#f2625d" d="M1301 993h0M1486 832h0M1500 894h0M1404 975h0"/>
<path stroke="#5c167f" d="M1321 593h0M1289 960h0M544 497h0"/>
<path stroke="#fc8961" d="M906 785h0M1041 900h0M1406 1012h0"/>
<path stroke="#f56b5c" d="M1449 1002h0M1343 1016h0M1160 653h0M994 851h0M1302 1027h0"/>
<path stroke="#fec185" d="M1401 898h0M1238 1021h0"/>
<path stroke="#fde0a1" d="M1517 913h0"/>
<path stroke="#390f6e" d="M645 855h0M1624 537h0M1211 692h0M934 982h0M1642 539h0M545 741h0M518 640h0M1272 612h0M839 588h0M1018 316h0M770 1171h0M1413 918h0M1281 528h0M1573 816h0M927 257h0M379 990h0M799 629h0M1208 679h0M1239 677h0M725 1134h0M1197 677h0M1362 585h0M894 1052h0M882 502h0M446 637h0M479 989h0M1174 893h0M1201 608h0M1623 519h0M557 931h0M691 852h0M1341 492h0M871 525h0M1035 988h0"/>
<path stroke="#762181" d="M1077 748h0M1317 492h0M1634 735h0M1018 599h0M443 890h0M743 723h0M925 499h0M1319 586h0M1529 584h0M499 1008h0M403 909h0M1267 515h0M1094 467h0M1381 993h0M988 1022h0M912 624h0M938 841h0M351 901h0M1344 785h0M706 856h0M971 675h0M768 731h0M1328 731h0M1051 633h0M859 446h0M1149 527h0M525 889h0M1413 809h0M740 1129h0M1290 540h0M1160 545h0M445 569h0M544 719h0M964 256h0M547 499h0M1239 724h0M1417 536h0M711 298h0M1283 607h0M875 702h0M1356 640h0M1370 490h0M959 1127h0M1154 541h0M937 976h0M1191 955h0M1198 514h0M722 595h0M806 741h0M516 918h0M471 883h0M768 648h0M704 585h0M1313 593h0M587 487h0M1377 1020h0M708 526h0"/>
<path stroke="#cd4071" d="M1393 557h0M1597 762h0M427 1020h0M1439 885h0M441 633h0M458 876h0M707 673h0M1050 933h0M641 601h0M1453 535h0M595 469h0M1402 678h0M1001 761h0M664 937h0M1401 987h0M1270 1002h0"/>
<path stroke="#471078" d="M1237 676h0M1234 502h0M1059 906h0M1562 833h0M818 511h0M755 606h0M804 906h0M1262 509h0M1121 603h0M1372 624h0M964 1113h0M1493 583h0M1487 842h0M458 618h0M565 523h0M953 828h0M984 620h0M1080 584h0M1569 537h0M1056 1123h0M772 1154h0M578 895h0M993 1109h0M1464 620h0M1123 883h0M438 881h0M923 572h0M897 1105h0M819 797h0M996 907h0M942 569h0M1368 869h0M741 457h0M1033 1027h0M797 1186h0M1413 533h0M1136 473h0M1637 732h0M347 982h0M1108 580h0M1142 912h0M1183 570h0M1537 397h0M1126 627h0M707 853h0M1247 735h0M1265 650h0M795 1178h0M1031 414h0M1026 250h0M779 1143h0M742 663h0M1415 619h0M748 873h0M694 559h0M1310 419h0M1419 962h0M1131 957h0M1281 444h0M398 873h0M473 974h0M1060 1103h0M723 1128h0M535 942h0M1184 702h0M616 579h0M1310 483h0M589 761h0M1178 387h0M1423 501h0M1203 587h0M721 645h0M1153 761h0M726 324h0M1582 469h0M1274 354h0M1637 521h0M1405 1003h0M1149 719h0M538 964h0M1069 779h0M1157 696h0M1182 496h0M538 761h0M1402 1024h0M399 988h0M1044 1072h0M702 570h0M796 397h0M833 531h0M1435 981h0M1386 850h0M516 528h0M1344 610h0M1686 669h0M1382 645h0M1347 388h0M848 1116h0M1246 544h0M921 1135h0M1064 676h0M1063 425h0M392 1023h0M1570 433h0M745 624h0M353 950h0M1410 578h0M909 404h0M1537 525h0M1048 954h0M1699 685h0M1491 977h0M564 696h0M1103 538h0M878 659h0M1487 409h0M788 856h0M1421 697h0M1066 1133h0M522 566h0M795 746h0M854 385h0M1363 593h0M823 681h0M913 1060h0M865 1155h0M878 548h0M887 1148h0M936 472h0M787 594h0M997 454h0M894 1114h0M1330 474h0M461 944h0M1146 709h0M515 931h0M1470 873h0M882 1059h0M845 1120h0M581 476h0M1335 1017h0M1107 671h0M1004 395h0M877 746h0M1363 545h0M887 1140h0M1150 611h0M1316 923h0M1178 555h0M785 1170h0M1218 740h0M1374 717h0M1283 686h0M1106 578h0M1270 423h0M693 679h0M694 321h0M745 275h0M1142 521h0M869 975h0M643 508h0M1035 416h0M1348 562h0M1090 422h0M1336 430h0M1482 565h0M733 421h0M1191 625h0M417 887h0M557 769h0M1008 733h0M1160 596h0M1426 601h0M780 1184h0M503 907h0"/>
<path stroke="#fd9266" d="M1309 713h0M1314 680h0M1297 962h0M1253 664h0"/>
<path stroke="#892881" d="M541 956h0M391 942h0M1187 630h0M852 509h0M434 1009h0M603 791h0M1556 708h0M1166 606h0M978 758h0M1354 613h0M780 701h0M1709 674h0M852 507h0M807 651h0M1241 1015h0M783 614h0M907 745h0M1194 726h0M1238 575h0M1399 1037h0M1049 951h0M767 1168h0M1082 742h0M494 1004h0M556 872h0M922 522h0"/>
<path stroke="#4e117b" d="M955 240h0M468 536h0M716 289h0M1389 792h0M432 1017h0M789 1100h0M1168 393h0M1202 692h0M495 642h0M873 845h0M1055 257h0M1047 267h0M506 880h0M1415 986h0M440 977h0M1618 584h0M1200 505h0M719 871h0M966 896h0M736 510h0M1527 553h0M751 359h0M1370 398h0M872 1143h0M1162 497h0M881 591h0M1090 894h0M1536 597h0M1321 725h0M1642 748h0M1176 363h0M986 407h0M1629 524h0M1401 873h0M1695 585h0M719 340h0M934 945h0M1223 556h0M503 992h0M913 1038h0M1447 400h0M584 499h0M1055 954h0M895 423h0M409 980h0M457 904h0M870 234h0M824 959h0M831 670h0M901 615h0M1144 515h0M884 1114h0M1151 566h0M1462 484h0M1532 437h0M1317 460h0M1644 639h0M1296 689h0M519 696h0M741 1132h0M1110 409h0M1017 881h0M691 306h0M1103 388h0M959 475h0M857 971h0M1408 550h0M880 983h0M541 576h0M740 625h0M866 1062h0M1141 551h0M1191 617h0M1558 827h0M750 277h0M858 1085h0M770 263h0M1113 687h0M1078 524h0M608 573h0M1606 695h0M1424 672h0M1165 780h0M788 1180h0M1345 410h0M1421 1023h0M1401 523h0M1434 435h0M1158 591h0M1467 603h0M840 583h0M1137 542h0M1014 263h0M1551 538h0"/>
<path stroke="#000004" d="M1469 539h0M578 492h0M1494 446h0M1620 535h0M458 574h0M1281 627h0M665 305h0M1703 685h0M919 984h0M1228 559h0M911 981h0M1289 552h0M1087 500h0M395 1014h0M1426 513h0M662 571h0M358 1010h0M642 585h0M534 539h0M1079 475h0M826 491h0M1353 485h0M643 439h0M708 448h0M605 528h0M905 603h0M1586 545h0M1264 511h0M1428 534h0M453 928h0M718 716h0M1567 441h0M1241 528h0M1655 579h0M1329 486h0M851 490h0M1326 549h0M300 816h0M443 578h0M765 1165h0M1652 563h0M986 1108h0M1151 608h0M1544 531h0M776 504h0M1455 563h0M1504 416h0M887 1101h0M692 485h0M1198 507h0M1376 542h0M1125 611h0M1162 649h0M709 769h0M1547 455h0M647 557h0M799 823h0M1343 465h0M1057 527h0M1005 401h0M1245 488h0M1431 791h0M841 848h0M1208 485h0M399 1024h0M899 664h0M688 665h0M1225 624h0M731 520h0M1160 480h0M1454 458h0M1039 620h0M1433 490h0M565 604h0M1653 628h0M816 660h0M773 668h0M915 563h0M1028 824h0M1050 420h0M681 500h0M672 534h0M1500 647h0M777 634h0M834 282h0M496 520h0M895 325h0M919 646h0M647 792h0M1064 348h0M1422 906h0M1442 496h0M736 578h0M736 866h0M1253 401h0M939 292h0M1457 439h0M754 896h0M1185 679h0M337 957h0M1148 573h0M498 645h0M1216 352h0M862 543h0M1350 412h0M1586 527h0M766 735h0M690 568h0M1111 573h0M738 429h0M1644 528h0M716 431h0M720 294h0M727 522h0M729 703h0M867 548h0M1145 330h0M1598 598h0M1126 569h0M926 246h0M340 951h0M1065 547h0M728 295h0M786 635h0M1550 839h0M740 743h0M366 924h0M973 416h0M769 412h0M750 307h0M757 482h0M699 408h0M1400 456h0M781 460h0M1209 719h0M571 556h0M1046 976h0M674 566h0M1241 433h0M1209 700h0M1243 1015h0M415 871h0M1256 485h0M755 429h0M1352 389h0M1257 507h0M1138 440h0M1298 934h0M998 1135h0M653 310h0M656 456h0M1124 569h0M1547 521h0M1187 515h0M1301 416h0M1527 457h0M1071 391h0M1261 756h0M768 287h0M1330 1011h0M1105 679h0M382 1006h0M953 572h0M1673 706h0M591 562h0M1521 511h0M1494 472h0M1544 402h0M1461 437h0M1573 524h0M1222 349h0M1297 433h0M774 1187h0M1508 407h0M455 929h0M906 607h0M625 707h0M648 497h0M737 866h0M1541 914h0M790 554h0M928 846h0M310 829h0M1585 525h0M860 461h0M1250 566h0M1575 578h0M1594 536h0M1290 693h0M1176 986h0M1428 1011h0M1538 553h0M1231 608h0M1585 809h0M625 436h0M839 616h0M1534 607h0M803 562h0M1112 659h0M1425 440h0M723 552h0M664 303h0M1205 755h0M627 500h0M1121 535h0M649 865h0M700 505h0M840 483h0M516 535h0M1047 442h0M1408 870h0M580 470h0M660 502h0M465 561h0M975 924h0M878 407h0M1429 513h0M1241 609h0M372 959h0M1089 556h0M1314 448h0M1496 614h0M1051 621h0M1461 466h0M871 1153h0M852 251h0M1628 519h0M1017 442h0M791 417h0M768 283h0M396 989h0M1503 576h0M715 448h0M1517 601h0M660 568h0M752 587h0M1627 498h0M1383 1034h0M1142 338h0M791 689h0M1164 662h0M540 632h0M895 420h0M1138 549h0M728 710h0"/>
<path stroke="#6e1e81" d="M1132 728h0M431 925h0M1222 586h0M914 564h0M1190 707h0M814 570h0M1429 992h0M1378 894h0M1242 368h0M1140 973h0M1197 612h0M1355 593h0M1080 573h0M761 889h0M1243 486h0M1253 814h0M651 344h0M530 950h0M1562 796h0M543 961h0M1194 499h0M1439 533h0M1050 805h0M1432 742h0M790 451h0M1379 536h0M870 513h0M1010 736h0M296 842h0M1139 351h0M515 500h0M1287 890h0M855 980h0M1235 585h0M1407 534h0M1559 741h0M466 647h0M906 761h0M1159 630h0M1312 587h0M390 959h0M1175 730h0M1001 805h0M876 457h0M1058 399h0M1225 522h0"/>
<path stroke="#832681" d="M883 1052h0M1130 690h0M1142 530h0M989 250h0M1274 1014h0M1602 488h0M739 507h0M1187 430h0M756 656h0M1155 885h0M1226 529h0M549 696h0M1024 358h0M1351 590h0M739 764h0M723 494h0M452 624h0M718 602h0M755 1169h0M903 823h0M598 442h0M1096 621h0M981 964h0M1060 580h0M1590 819h0M1432 415h0M830 588h0M653 491h0M1382 638h0M1051 959h0M1330 442h0M979 553h0M417 998h0M1440 668h0M848 800h0M837 515h0M1129 774h0M1053 559h0M1169 626h0M975 637h0M1045 443h0M1202 518h0M485 546h0M403 954h0M834 249h0M850 654h0M1295 591h0M1031 711h0M822 603h0M488 553h0M1078 514h0M912 683h0M541 980h0M665 315h0M633 903h0M1436 405h0M1459 653h0M502 713h0M709 715h0M1359 391h0M1275 647h0"/>
<path stroke="#400f74" d="M746 832h0M1498 943h0M1025 775h0M1358 564h0M1359 429h0M800 415h0M982 246h0M664 597h0M511 926h0M1010 560h0M1203 988h0M1159 987h0M833 792h0M1204 627h0M1271 437h0M481 560h0M734 758h0M797 747h0M844 252h0M521 714h0M1473 674h0M524 544h0M674 865h0M1125 625h0M849 246h0M506 908h0M779 286h0M860 594h0M1154 620h0M914 974h0M735 466h0M1715 687h0M1020 508h0M1507 524h0M805 441h0M733 680h0M1025 673h0M1037 551h0M549 590h0M1197 559h0M826 921h0M1206 950h0M818 293h0M857 978h0M790 1180h0M1393 468h0M585 495h0M1533 447h0M771 635h0M512 564h0M937 491h0M869 553h0M396 1019h0M1082 887h0M361 1011h0M465 612h0M803 586h0M1044 1069h0M1302 671h0M1407 457h0M1285 460h0M486 600h0M392 867h0M1081 507h0M945 778h0M1433 986h0M1303 629h0M461 631h0M1063 1126h0M1248 584h0M707 328h0M1289 577h0M1291 394h0M1453 820h0M425 861h0M1437 805h0M1061 612h0M626 513h0M462 629h0M1142 715h0M291 843h0M1459 499h0M1517 457h0M662 501h0M1346 416h0M864 1092h0M1060 1110h0M517 968h0M597 481h0M515 888h0M1045 453h0M1336 486h0M1086 883h0M1127 481h0M1631 528h0M770 684h0M873 877h0M542 955h0M1457 799h0M927 574h0M1105 571h0M707 600h0M906 592h0M1636 591h0M880 434h0M450 621h0M784 1176h0M1305 429h0M925 1117h0M1335 499h0M1469 808h0M1167 683h0M706 419h0M1176 587h0M1560 553h0M742 574h0M1007 762h0M847 974h0M878 1143h0M1561 454h0M1159 678h0M805 844h0M382 901h0M957 1156h0M872 396h0M762 270h0M340 1000h0M737 867h0M1119 538h0M758 270h0M995 621h0M694 441h0M402 1011h0M1006 1152h0M783 306h0M840 1100h0M883 978h0M865 1102h0M1222 1001h0M760 297h0M1360 586h0"/>
<path stroke="#a5317e" d="M1119 948h0M571 550h0M1558 769h0M953 804h0M1249 720h0M1051 1123h0M927 748h0M876 1118h0M460 897h0M1481 976h0M743 615h0M858 269h0M1489 907h0M391 1014h0M1244 670h0M851 980h0M754 890h0M378 1024h0M1206 954h0M498 587h0M1117 756h0M452 992h0M841 629h0M1190 709h0M937 365h0M805 404h0M969 581h0M1211 1021h0M971 834h0M636 513h0M908 803h0M1304 974h0M817 607h0M1485 984h0"/>
<path stroke="#7c2382" d="M1410 504h0M419 863h0M738 874h0M1067 655h0M1586 508h0M584 618h0M1402 586h0M855 264h0M952 237h0M464 935h0M846 589h0M1055 969h0M628 488h0M587 934h0M1422 511h0M741 718h0M1470 531h0M857 905h0M1675 671h0M1385 551h0M574 858h0M671 643h0M501 1004h0M1284 980h0M330 876h0M1012 650h0M678 824h0M652 971h0M411 1010h0M1265 917h0M750 492h0M1347 508h0M1412 941h0M672 559h0M879 522h0M1299 377h0M1165 597h0M1109 523h0M528 867h0M1328 498h0M614 498h0M580 444h0M305 827h0M1519 448h0M1121 1000h0M1154 889h0M832 373h0M526 719h0M360 955h0M1641 543h0M1215 807h0M1082 443h0M584 790h0M967 527h0M1064 277h0M1277 642h0M1201 496h0M1336 552h0M1044 758h0M801 616h0M843 792h0M1386 683h0M836 1091h0M656 870h0M754 482h0M630 743h0M1332 418h0M494 631h0M990 422h0M1307 619h0M1661 536h0M1156 687h0M1430 525h0M610 459h0M1186 1008h0M1299 632h0M1146 695h0M556 752h0M765 441h0M1107 627h0M1282 455h0M947 255h0M1337 939h0M736 622h0M731 719h0M1242 344h0M1205 623h0M875 1100h0M1140 504h0M1613 753h0M1231 686h0"/>
<path stroke="#ea5661" d="M648 863h0M343 885h0M502 998h0M1417 1012h0M1162 1001h0M1420 909h0M760 959h0M1255 868h0M1121 663h0M1418 942h0M1567 855h0"/>
<path stroke="#56147d" d="M1238 676h0M385 884h0M542 515h0M1521 508h0M548 554h0M758 552h0M1185 424h0M1529 476h0M757 377h0M1273 577h0M504 727h0M794 1173h0M926 284h0M787 620h0M1496 488h0M343 983h0M1041 641h0M919 1055h0M856 1090h0M587 519h0M1245 604h0M1269 990h0M817 264h0M1187 417h0M414 939h0M785 651h0M781 523h0M1129 591h0M444 881h0M787 386h0M1365 418h0"/>
<path stroke="#982d80" d="M1112 412h0M778 388h0M1070 262h0M1574 582h0M867 646h0M728 673h0M1306 517h0M527 671h0M1444 956h0M945 255h0M707 447h0M1015 756h0M1252 537h0M1245 643h0M1391 1038h0M1487 933h0M1198 1010h0M654 439h0M829 398h0"/>
<path stroke="#fa815f" d="M481 971h0M1231 936h0M1520 933h0M823 802h0M1278 881h0M1449 835h0M1429 1014h0M1424 817h0M1237 1017h0M1477 814h0M613 719h0M1030 898h0"/>
<path stroke="#902a81" d="M1417 713h0M685 695h0M891 642h0M1325 932h0M1022 1127h0M808 829h0M986 480h0M1368 1012h0M1192 600h0M1233 767h0M408 1011h0M1338 590h0M778 387h0M684 673h0M1132 637h0M905 605h0M469 989h0M685 473h0M1307 839h0M731 526h0M543 564h0"/>
<path stroke="#d3436e" d="M445 630h0M1407 1032h0M1245 773h0M1409 728h0M883 823h0M1278 889h0M1201 647h0M478 1009h0M536 625h0M1355 595h0M1096 653h0M1546 838h0M1096 703h0M1264 986h0M1364 991h0M1476 888h0M1198 809h0M1441 829h0M1451 973h0M984 741h0M1155 713h0"/>
<path stroke="#b2357b" d="M1693 635h0M799 849h0M633 702h0M1165 974h0M1248 586h0M1393 923h0M1039 778h0M1619 770h0M776 489h0M477 1009h0M1397 911h0M725 726h0M892 776h0M1447 936h0M547 933h0M1146 925h0M980 752h0M695 407h0M407 938h0M925 806h0M1140 940h0"/>
<path stroke="#331067" d="M395 930h0M1191 583h0M1192 352h0"/>
<path stroke="#d9466b" d="M862 251h0M832 693h0M675 751h0M1197 782h0M836 684h0M1130 1005h0M508 701h0M1254 935h0M731 606h0M550 970h0M1451 946h0M771 817h0M543 952h0"/>
<path stroke="#fed799" d="M1388 893h0"/>
<path stroke="#ba3878" d="M1206 638h0M1342 961h0M1266 519h0M456 544h0M818 717h0M1012 1137h0M1101 897h0M716 667h0M522 716h0M1045 834h0M1286 741h0M617 825h0M1335 825h0M519 716h0M864 257h0M1122 682h0M764 1138h0"/>
<path stroke="#9e2f7f" d="M1129 574h0M1018 903h0M763 915h0M873 242h0M882 248h0M816 1089h0M844 397h0M1430 526h0M1093 394h0M765 668h0M1551 797h0M761 367h0M1183 718h0M441 589h0M1140 587h0M715 405h0M1284 542h0M1435 707h0M1472 915h0M1332 860h0M847 596h0M1137 783h0M1167 523h0M777 1186h0M1687 680h0M1165 621h0M295 845h0M1015 1086h0M820 418h0M787 973h0M521 709h0M409 1024h0M360 998h0M520 516h0"/>
<path stroke="#681c81" d="M638 504h0M1015 257h0M586 731h0M476 556h0M665 504h0M1035 250h0M727 704h0M1204 637h0M1092 892h0"/>
<path stroke="#f9795d" d="M509 657h0M1412 675h0M1280 966h0M1354 1032h0M1272 982h0M1208 683h0M942 832h0M1385 871h0M943 673h0"/>
<path stroke="#e04c67" d="M732 648h0M1046 731h0M375 1022h0M1010 605h0M479 646h0M1402 647h0M1465 920h0M976 800h0M996 654h0M646 483h0M1023 586h0M1147 666h0M352 1006h0M1437 989h0M1211 1014h0M1176 914h0M1472 961h0M958 441h0M649 726h0"/>
<path stroke="#ab337c" d="M1127 576h0M466 995h0M883 965h0M644 524h0M770 652h0M659 635h0M856 439h0M485 625h0M839 585h0M1210 751h0M502 982h0M724 532h0M1471 701h0M468 591h0M478 993h0M302 835h0M655 500h0M1257 559h0M464 585h0M883 845h0M1188 523h0M1015 546h0M713 626h0M1250 656h0M1483 836h0M813 577h0M950 546h0M733 521h0M462 664h0M631 755h0M751 852h0M757 476h0M859 611h0M1582 549h0M650 858h0M1310 378h0"/>
<path stroke="#f2625d" d="M357 983h0M1296 968h0M967 833h0M735 856h0M1320 916h0M1437 810h0M1033 729h0"/>
<path stroke="#c73d73" d="M682 612h0M953 538h0M1504 839h0M858 480h0M624 767h0M341 977h0M1424 985h0M1335 600h0M1498 862h0M848 581h0M1122 998h0M1468 782h0M784 826h0M498 871h0M778 528h0M705 510h0M781 641h0M1037 730h0M539 868h0M560 755h0M684 964h0M1029 841h0"/>
<path stroke="#f7725c" d="M418 1003h0M644 964h0M1533 837h0M1496 856h0M1113 510h0M853 706h0"/>
<path stroke="#c03a76" d="M1169 693h0M1282 1040h0M1344 479h0M1327 881h0M1453 873h0M616 517h0M1319 574h0M476 980h0M692 631h0M1469 973h0M1060 882h0M1380 590h0M844 585h0M1687 674h0M1387 1016h0M1167 656h0M1287 537h0M1624 540h0M988 836h0"/>
<path stroke="#e55064" d="M1145 926h0M780 722h0M961 900h0M454 1010h0M1437 990h0M1513 897h0M1258 746h0M923 681h0M891 1047h0M1515 955h0M603 967h0M833 711h0M1093 772h0M1537 911h0M594 748h0"/>
<path stroke="#f56b5c" d="M1550 890h0M1056 877h0M491 625h0M507 723h0M1453 959h0"/>
<path stroke="#feb078" d="M1306 969h0M1368 980h0M1317 982h0M1317 879h0"/>
<path stroke="#ee5b5e" d="M1106 754h0M595 606h0M1361 982h0M948 846h0M1388 985h0M1085 692h0M1384 937h0M840 803h0M849 848h0"/>
<path stroke="#5c167f" d="M1326 927h0M1180 548h0M835 951h0M1009 257h0"/>
<path stroke="#fc8961" d="M1403 1022h0M1392 805h0M1426 894h0"/>
<path stroke="#fd9a6a" d="M1316 900h0M1052 889h0M1429 882h0"/>
<path stroke="#fea16e" d="M339 1010h0M1382 895h0M1540 897h0"/>
<path stroke="#fec88c" d="M1310 998h0"/>
<path stroke="#fec185" d="M1510 905h0M1138 1012h0"/>
<path stroke="#fea973" d="M712 693h0"/>
<path stroke="#a5317e" d="M470 531h0M532 553h0M823 913h0M1541 851h0M1493 891h0M649 484h0M726 639h0M1028 1143h0M564 536h0M1020 260h0M760 1173h0M1432 938h0M518 598h0M1271 899h0M1315 437h0M1323 540h0M836 742h0M785 435h0M1058 774h0M1304 615h0M683 936h0M1403 954h0M505 914h0M899 1043h0M1119 792h0M1070 377h0M393 908h0M1488 845h0M469 543h0M1200 573h0M801 545h0M978 654h0M394 922h0M443 604h0M473 571h0M1044 266h0M1425 846h0M1021 974h0M940 263h0M1331 438h0M873 947h0M1004 906h0M711 699h0M640 635h0M660 752h0M1237 532h0M808 560h0M941 827h0M1356 786h0M1289 737h0M502 556h0"/>
<path stroke="#390f6e" d="M1285 445h0M1514 399h0M1330 574h0M1640 678h0M470 891h0M809 875h0M1090 685h0M1120 616h0M1046 690h0M1365 680h0M1023 771h0M1328 617h0M918 797h0M989 312h0M609 433h0M770 711h0M1355 643h0M1274 720h0M894 1082h0M836 1126h0M1257 500h0M1215 376h0M879 732h0M621 576h0M1091 488h0M1603 505h0M790 1101h0M1388 508h0M1528 595h0M1441 407h0M1175 575h0M1005 900h0"/>
<path stroke="#ab337c" d="M404 993h0M386 905h0M1152 994h0M922 611h0M848 1114h0M1336 1000h0M464 867h0M1004 848h0M1235 739h0M555 912h0M1544 881h0M674 402h0M1395 465h0M1225 582h0M833 903h0M872 240h0M490 586h0M1158 965h0M1255 554h0M492 1007h0M978 979h0M651 936h0M789 555h0M1304 893h0M963 816h0M704 538h0M461 617h0M1216 777h0"/>
<path stroke="#331067" d="M905 244h0M1231 510h0M1600 498h0M445 929h0"/>
<path stroke="#471078" d="M1230 580h0M1167 688h0M935 238h0M848 1140h0M929 561h0M1622 765h0M832 563h0M298 829h0M1257 504h0M417 959h0M1157 999h0M631 761h0M967 728h0M899 964h0M893 960h0M364 899h0M1130 510h0M810 456h0M1331 486h0M834 545h0M1091 562h0M1614 777h0M1489 579h0M1055 428h0M1133 686h0M1204 731h0M833 572h0M1045 1074h0M747 560h0M1114 701h0M664 532h0M916 982h0M1313 577h0M578 520h0M1343 1004h0M1278 641h0M1170 601h0M1028 420h0M528 604h0M844 963h0M1259 690h0M883 1072h0M791 1187h0M1356 956h0M919 567h0M1276 693h0M1291 710h0M833 559h0M930 788h0M1375 700h0M951 498h0M1270 734h0M476 868h0M692 499h0M860 669h0M1434 400h0M1212 665h0M1324 549h0M865 729h0M1490 528h0M710 491h0M697 757h0M785 422h0M828 546h0M663 418h0M1383 999h0M1173 527h0M1667 640h0M393 1028h0M1526 481h0M586 713h0M1128 702h0M787 423h0M672 679h0M1148 509h0M1309 539h0M894 1078h0M1061 623h0M1214 624h0M1465 792h0M1281 959h0M1048 268h0M666 395h0M689 543h0M635 974h0M1206 488h0M781 559h0M1361 449h0M845 271h0M802 449h0M1642 544h0M945 883h0M1488 495h0M671 543h0M752 654h0M575 476h0M1464 883h0M1558 699h0M928 881h0M1125 502h0M1462 550h0M536 577h0M793 897h0M1077 971h0M863 1095h0M794 1169h0M1122 394h0M1597 536h0M821 945h0M1282 878h0M1245 624h0M792 782h0M755 833h0M1343 646h0M840 400h0M1132 516h0M618 419h0M491 702h0M845 810h0M1272 557h0M672 747h0M831 447h0M538 956h0M452 903h0M607 676h0M860 493h0M981 251h0M1047 912h0M376 928h0M628 546h0M1233 347h0M1030 757h0M1283 535h0M727 540h0M623 720h0M1472 559h0M1050 428h0M1130 669h0M369 995h0M763 654h0M668 856h0M1232 654h0M784 624h0M1237 615h0M1000 1127h0M839 1074h0M532 933h0M611 509h0M1063 961h0M1234 733h0M1175 556h0M776 1169h0M342 986h0M924 420h0M1159 537h0M504 716h0M860 575h0M781 712h0M1134 414h0M758 1177h0M1233 656h0"/>
<path stroke="#762181" d="M1198 597h0M550 652h0M1026 258h0M1160 595h0M895 592h0M822 450h0M1399 687h0M380 938h0M857 1120h0M1330 502h0M528 514h0M1024 600h0M1142 557h0M725 519h0M1032 813h0M845 1098h0M519 933h0M478 897h0M949 677h0M873 583h0M1512 526h0M619 427h0M1073 638h0M1011 835h0M1359 566h0M637 323h0M791 1099h0M1413 912h0M856 1118h0M1078 264h0M1366 525h0M578 801h0M1159 959h0M673 476h0M1499 560h0M922 422h0M291 838h0M1162 1000h0M1065 626h0M742 497h0M1304 597h0M431 880h0M950 684h0M660 845h0M862 973h0M856 486h0M761 840h0M900 549h0M789 710h0M1104 540h0M1016 515h0M1470 862h0M1391 650h0M825 252h0M1043 1137h0M1330 853h0M491 668h0M1298 443h0M1452 634h0M1014 1140h0M1284 523h0M1273 532h0"/>
<path stroke="#d3436e" d="M974 766h0M448 1012h0M1240 680h0M1221 808h0M356 943h0M477 600h0M1289 977h0M1533 835h0M1557 858h0M1310 974h0M1616 776h0M843 554h0"/>
<path stroke="#4e117b" d="M1284 518h0M1254 956h0M851 971h0M1201 802h0M495 1001h0M1528 490h0M1376 539h0M868 1091h0M862 1137h0M984 238h0M1084 560h0M1447 469h0M672 736h0M388 1024h0M431 909h0M1103 557h0M1153 706h0M1101 437h0M1402 493h0M847 365h0M1037 626h0M990 505h0M786 1178h0M491 600h0M1198 560h0M1174 505h0M849 593h0M712 943h0M1328 761h0M965 529h0M1407 867h0M715 669h0M773 604h0M1478 698h0M1120 584h0M1583 762h0M1144 545h0M360 995h0M1116 656h0M469 922h0M1252 914h0M911 1057h0M913 675h0M857 243h0M749 478h0M422 968h0M355 918h0M1067 640h0M407 1016h0M1422 646h0M1200 363h0M772 376h0M958 636h0M1341 522h0M430 932h0M750 692h0M809 414h0M1059 423h0M599 557h0M1265 531h0M1149 395h0M1145 981h0M940 412h0M1469 615h0M1531 455h0M884 1156h0M1052 1126h0M1569 465h0M1364 534h0M887 400h0M842 274h0M992 1142h0M825 1097h0M1501 794h0M1086 259h0M461 1005h0M554 931h0M1161 766h0M1046 1078h0M824 590h0M943 893h0M1303 653h0M603 527h0M1224 681h0M1560 565h0M1576 497h0M541 527h0M665 308h0M1056 1110h0M1053 267h0M786 763h0M1286 765h0M1444 572h0M486 892h0M819 511h0M806 648h0M1228 431h0M999 1122h0M472 869h0M1570 855h0M647 736h0M640 843h0M537 530h0M1104 338h0M759 705h0M1002 818h0"/>
<path stroke="#000004" d="M981 505h0M1605 618h0M1316 490h0M1406 434h0M1314 724h0M726 839h0M1210 542h0M1612 598h0M833 438h0M1560 459h0M1116 506h0M813 377h0M1159 560h0M1359 452h0M666 759h0M1413 854h0M389 868h0M1298 508h0M1584 458h0M920 327h0M1418 681h0M1485 607h0M668 579h0M801 611h0M1717 655h0M1271 438h0M368 930h0M825 560h0M1561 672h0M1612 548h0M1005 547h0M937 891h0M1340 480h0M1222 483h0M1493 534h0M683 469h0M1490 570h0M755 639h0M1348 976h0M1425 522h0M1486 505h0M1046 939h0M1436 521h0M603 585h0M1596 527h0M547 551h0M1178 371h0M753 698h0M670 408h0M657 931h0M1450 597h0M878 558h0M879 248h0M1095 667h0M1085 981h0M380 978h0M527 883h0M638 417h0M912 597h0M458 654h0M1213 548h0M737 478h0M1313 713h0M415 920h0M1293 544h0M857 480h0M710 288h0M529 698h0M1020 468h0M1153 898h0M871 827h0M1097 419h0M1321 613h0M971 432h0M1178 661h0M919 889h0M833 1095h0M914 453h0M815 273h0M1289 927h0M801 970h0M741 832h0M1543 792h0M663 342h0M1403 670h0M682 492h0M368 882h0M713 484h0M1079 410h0M1489 485h0M1299 638h0M979 811h0M1259 705h0M735 434h0M1483 584h0M1203 430h0M434 617h0M1454 536h0M789 962h0M1084 412h0M1346 570h0M1193 438h0M1035 883h0M860 1104h0M1103 474h0M1248 523h0M971 878h0M619 547h0M845 728h0M757 592h0M1229 481h0M901 755h0M1217 587h0M865 507h0M1405 472h0M635 732h0M765 453h0M1422 513h0M898 256h0M573 727h0M1667 610h0M1700 684h0M768 767h0M1704 581h0M950 525h0M378 882h0M887 723h0M1517 596h0M935 752h0M443 561h0M1107 541h0M1506 641h0M579 777h0M464 869h0M1082 687h0M1447 608h0M967 573h0M745 682h0M1527 450h0M1079 753h0M1269 537h0M498 922h0M359 974h0M1639 517h0M1446 765h0M1306 607h0M711 731h0M785 404h0M937 246h0M1259 527h0M461 592h0M1473 500h0M1702 594h0M498 875h0M814 456h0M766 306h0M636 484h0M1054 449h0M1307 580h0M1667 594h0M483 543h0M1601 554h0M1262 493h0M1515 463h0M797 364h0M443 585h0M1274 649h0M1563 424h0M464 650h0M711 487h0M988 1098h0M1347 770h0M421 973h0M1370 497h0M1006 844h0M1003 443h0M845 601h0M1007 477h0M1441 844h0M1146 501h0M1359 565h0M658 720h0M1045 417h0M1340 381h0M769 635h0M724 853h0M1003 461h0M409 1019h0M795 514h0M1287 401h0M959 754h0M1409 709h0M1102 593h0M915 516h0M1106 715h0M818 689h0M464 887h0M1066 397h0M1106 559h0M686 542h0M1420 499h0M1047 544h0M1171 622h0M949 328h0M1275 699h0M1133 672h0M1114 643h0M818 622h0M1558 412h0M1321 728h0M781 277h0M1207 646h0M538 985h0M686 486h0M939 566h0M1171 533h0M1640 561h0M346 967h0M1072 593h0M507 895h0M1254 537h0M1066 523h0M378 1018h0M1208 758h0M1436 985h0M877 828h0M1708 695h0M778 1164h0M1283 679h0M1415 405h0M1638 511h0M1400 493h0M484 545h0M1153 711h0M536 503h0M1472 483h0M1476 958h0M670 457h0M1095 480h0M1518 678h0M666 601h0M867 617h0M828 446h0M1239 651h0M1341 537h0M1124 414h0M773 557h0M1073 632h0M584 518h0M417 989h0M909 421h0M805 590h0M985 477h0M437 916h0M838 244h0M618 613h0M787 461h0M480 604h0M509 579h0M498 554h0M463 903h0M820 556h0M1552 535h0M548 509h0M1644 549h0M1300 574h0M458 551h0"/>
<path stroke="#902a81" d="M789 429h0M1512 926h0M1007 1134h0M1374 882h0M738 301h0M1388 587h0M875 838h0M532 569h0M1329 996h0M1594 600h0M995 485h0M1154 616h0M863 353h0M837 584h0M654 709h0M1516 911h0M491 964h0M468 1000h0"/>
<path stroke="#d9466b" d="M1493 834h0M1294 903h0M674 948h0M1214 524h0M1249 659h0M1076 658h0M436 610h0M701 679h0M1253 1028h0M1175 686h0M1513 807h0M496 956h0"/>
<path stroke="#6e1e81" d="M1046 757h0M875 618h0M873 540h0M766 403h0M888 505h0M1165 983h0M797 669h0M1317 1036h0M1308 523h0M513 966h0M832 889h0M1006 1076h0M725 717h0M1130 950h0M915 235h0M1371 498h0M653 490h0M1499 887h0M1306 562h0M1536 857h0M1075 686h0M927 954h0M1255 946h0M637 524h0M700 583h0M784 514h0M835 731h0M477 637h0M862 433h0M840 978h0M1128 495h0M1530 915h0M1692 702h0M1591 793h0M1350 703h0M593 693h0M933 879h0M771 1164h0M902 534h0M1162 680h0M1134 997h0M1022 261h0M985 252h0"/>
<path stroke="#400f74" d="M750 490h0M860 617h0M1360 512h0M1443 509h0M708 387h0M1307 525h0M1204 546h0M1422 937h0M698 408h0M1611 501h0M1180 653h0M341 891h0M1524 524h0M553 763h0M1346 500h0M1167 576h0M668 859h0M424 955h0M996 619h0M1393 574h0M1163 672h0M1200 435h0M1336 515h0M1387 680h0M869 466h0M1207 986h0M815 337h0M534 698h0M439 899h0M1029 651h0M1057 381h0M946 1101h0M1044 247h0M926 1051h0M898 1058h0M393 901h0M985 712h0M1175 1010h0M1125 531h0M806 817h0M765 396h0M1029 262h0M1441 470h0M1553 566h0M1089 437h0M749 427h0M895 850h0M1164 520h0M715 613h0M506 904h0M1280 710h0M1506 554h0M470 536h0M920 778h0M444 602h0M1091 500h0M821 745h0M728 1129h0M664 431h0M1083 612h0M1105 766h0M1668 560h0M641 446h0M483 528h0M1259 692h0M404 862h0M990 594h0M892 805h0M843 678h0M1098 684h0M1409 420h0M1139 897h0M803 604h0M721 1120h0M1419 593h0M1004 455h0M1083 983h0M1297 689h0M1298 582h0M1320 860h0M366 860h0M1671 564h0M1403 968h0M1036 1135h0M1090 434h0M828 949h0M1070 393h0M1336 619h0M360 975h0M1059 389h0M1015 318h0M755 619h0M921 1086h0M1276 512h0M1013 702h0M499 537h0M1408 551h0M1307 389h0M1042 1075h0M767 1133h0M900 259h0M1007 960h0M584 454h0M1414 693h0M1346 552h0M1209 625h0M886 1127h0M707 638h0M1157 636h0M1111 456h0M757 292h0M1046 834h0M703 932h0M642 444h0M450 604h0M1109 981h0M1058 718h0M821 523h0M1160 506h0M368 920h0M1013 1141h0M344 1001h0M973 802h0M335 996h0M1149 420h0M499 989h0M678 467h0M886 422h0M374 1024h0M1560 502h0M1102 440h0M860 703h0M300 849h0M1463 886h0M771 732h0M1199 774h0M1496 483h0M476 620h0"/>
<path stroke="#7c2382" d="M738 303h0M519 713h0M673 941h0M870 422h0M1367 520h0M777 1157h0M1409 965h0M756 951h0M843 838h0M1101 618h0M842 977h0M845 433h0M1167 434h0M1395 589h0M1050 476h0M357 961h0M782 617h0M1470 925h0M1163 546h0M1072 482h0M1287 579h0M1165 651h0M338 937h0M1148 689h0M763 284h0M861 1088h0M1263 800h0M818 294h0M1272 802h0M382 1026h0M795 272h0M1628 579h0M1283 481h0M437 1009h0M1373 522h0M721 435h0M1129 647h0M676 677h0M1134 627h0M364 952h0M1130 513h0M736 298h0M1335 473h0M473 661h0M1381 634h0M738 820h0M932 877h0M1262 693h0M730 394h0M461 922h0M655 931h0M1005 837h0M851 1081h0M865 511h0M901 382h0M1163 718h0M824 263h0M1322 441h0M1234 578h0M1655 541h0M826 502h0M766 396h0M1425 577h0M816 603h0M1204 929h0M1321 541h0M592 449h0M696 682h0M974 415h0M438 605h0M1044 1139h0M1136 454h0M1220 612h0M1290 400h0"/>
<path stroke="#e04c67" d="M739 792h0M1153 733h0M825 839h0M1489 793h0M1264 795h0M1157 1009h0M1249 814h0M975 968h0M533 596h0M552 717h0M635 409h0M1456 922h0M1375 832h0M1417 987h0M621 730h0M1098 682h0M1186 899h0"/>
<path stroke="#ba3878" d="M994 884h0M760 546h0M970 608h0M1138 642h0M1404 717h0M1437 840h0M1152 634h0M708 902h0M939 249h0M1276 978h0M476 634h0M1051 893h0M1546 892h0M827 717h0M1037 1123h0M761 727h0M504 977h0M652 323h0M1631 697h0M997 538h0"/>
<path stroke="#982d80" d="M556 494h0M1137 617h0M1372 627h0M1098 587h0M1447 969h0M1401 542h0M493 635h0M1509 856h0M941 698h0M787 835h0M883 695h0M761 295h0M351 906h0M885 249h0M811 267h0M975 946h0M1255 575h0M1369 441h0M1446 414h0M1422 835h0M1443 988h0"/>
<path stroke="#b2357b" d="M1096 939h0M1048 752h0M433 1014h0M347 928h0M665 719h0M345 1001h0M1031 906h0M735 557h0M1160 709h0M572 549h0M770 267h0M1338 850h0M1603 620h0M963 818h0M1175 714h0M379 1025h0M1205 681h0M848 563h0M1181 962h0M918 757h0"/>
<path stroke="#9e2f7f" d="M896 947h0M1509 848h0M921 316h0M1085 278h0M869 732h0M774 756h0M1075 731h0M895 565h0M1116 506h0M698 705h0M1626 580h0M1340 741h0M987 901h0M728 664h0M599 705h0M1139 646h0M539 710h0M1213 490h0M573 740h0M1099 553h0M484 1008h0M1373 573h0M612 438h0M1127 584h0M1538 903h0"/>
<path stroke="#fa815f" d="M1056 748h0M1524 864h0M816 945h0M1376 1000h0M1079 890h0M1181 1006h0M1290 1015h0M731 742h0"/>
<path stroke="#feb97f" d="M807 693h0M1406 825h0"/>
<path stroke="#56147d" d="M1220 573h0M497 978h0M1327 466h0M377 936h0M384 905h0M733 434h0M571 602h0M673 837h0M935 827h0M738 672h0M441 601h0M996 785h0M1274 646h0M1211 662h0M1186 548h0M1003 425h0M1198 1000h0M1364 626h0M1580 596h0M676 537h0M960 584h0M725 632h0M1308 426h0M840 605h0M1342 631h0M974 617h0M897 1052h0M963 794h0"/>
<path stroke="#892881" d="M1483 551h0M969 519h0M517 652h0M684 866h0M526 931h0M1121 599h0M981 1112h0M1317 597h0M812 830h0M1107 560h0M777 286h0M892 1046h0M1415 512h0M646 779h0M1198 614h0M755 528h0M1031 908h0M764 491h0M1253 599h0M1291 442h0M1148 636h0M1115 604h0M1135 619h0M499 902h0M913 660h0M1084 679h0M825 292h0M548 732h0M541 760h0M736 862h0"/>
<path stroke="#f7725c" d="M1230 1019h0M564 777h0M1324 966h0M813 720h0M1341 1016h0M1293 845h0"/>
<path stroke="#fea16e" d="M672 695h0M1392 1042h0M1179 704h0"/>
<path stroke="#ee5b5e" d="M1523 859h0M1509 882h0M1337 992h0M942 915h0M1226 809h0M1496 911h0"/>
<path stroke="#832681" d="M908 823h0M497 906h0M1191 347h0M622 781h0M870 840h0M1322 562h0M1229 502h0M618 957h0M1093 596h0M866 720h0M1187 766h0M1287 1021h0M1308 406h0M685 773h0M1001 571h0M1394 615h0M398 954h0M633 811h0M1037 1139h0M1470 448h0M1149 995h0M697 838h0M1206 614h0M411 921h0M787 617h0M1087 683h0M830 548h0M506 726h0M1664 700h0M738 849h0M1512 610h0M1216 367h0M1102 548h0M633 849h0M1261 730h0M1648 545h0M1252 648h0M1406 672h0M879 965h0M304 810h0M1312 808h0M1049 245h0M1374 513h0M607 782h0M1393 689h0M705 656h0M1323 562h0M1182 543h0M1441 835h0M771 595h0M524 636h0M753 682h0M1353 631h0M894 595h0M1228 586h0M1181 528h0M1612 519h0M347 974h0M968 816h0M391 905h0M565 517h0M897 620h0M371 957h0M1480 576h0M762 887h0M402 887h0M1262 554h0M864 522h0"/>
<path stroke="#c03a76" d="M1038 732h0M513 592h0M1106 559h0M1025 239h0M821 699h0M469 650h0M718 453h0M634 643h0M725 637h0M1402 521h0M373 994h0M1529 814h0M1429 549h0M800 853h0M479 601h0M1257 626h0M1484 896h0M1397 680h0M1094 471h0M807 675h0M1039 530h0"/>
<path stroke="#c73d73" d="M1549 887h0M909 769h0M703 968h0M1152 691h0M671 323h0M478 987h0M1521 876h0M1073 690h0M1448 610h0M1461 868h0M1325 689h0M1323 682h0M330 949h0M928 787h0M1416 814h0M791 837h0M1475 945h0M314 849h0M1168 607h0M1362 718h0M1350 966h0"/>
<path stroke="#cd4071" d="M1407 620h0M1191 978h0M1332 858h0M961 685h0M1559 874h0M654 513h0M1169 1020h0M668 307h0M465 645h0M911 536h0M1346 664h0M893 828h0M434 585h0M1151 729h0M760 614h0M1046 716h0M655 477h0M455 640h0M1539 884h0M1269 758h0"/>
<path stroke="#ea5661" d="M1044 983h0M1089 883h0M1425 955h0M734 639h0M1164 677h0M1034 896h0M1394 661h0M618 542h0M579 951h0M520 996h0M1066 682h0M1072 891h0M1500 947h0M884 945h0M578 756h0M665 950h0"/>
<path stroke="#fd9266" d="M1506 965h0M1141 749h0M1283 944h0M1491 869h0"/>
<path stroke="#fc8961" d="M1420 904h0M811 847h0M740 867h0"/>
<path stroke="#fec88c" d="M1473 980h0"/>
<path stroke="#fd9a6a" d="M373 1006h0M959 810h0M828 707h0M1040 886h0M1536 903h0M543 637h0"/>
<path stroke="#e55064" d="M1056 901h0M1484 880h0M1486 847h0M1102 537h0M480 939h0M580 691h0M795 914h0M1436 895h0M1203 735h0M1555 884h0M1446 802h0M1147 760h0"/>
<path stroke="#f9795d" d="M580 613h0M484 951h0M1241 934h0M1433 895h0M1466 856h0M1265 862h0M1422 807h0M700 691h0"/>
<path stroke="#681c81" d="M999 818h0M1232 421h0M1146 686h0M1394 966h0M704 320h0M336 992h0M434 597h0M635 672h0"/>
<path stroke="#fec185" d="M1420 933h0M1425 999h0M1362 902h0"/>
<path stroke="#f2625d" d="M1344 1015h0M1464 952h0M698 751h0M1466 862h0M1354 670h0M1421 995h0M1132 596h0M1444 968h0"/>
<path stroke="#feb078" d="M1456 894h0"/>
<path stroke="#fea973" d="M1448 955h0M1223 965h0M1426 871h0M1471 838h0M761 849h0"/>
<path stroke="#5c167f" d="M1414 619h0"/>
<path stroke="#fcfdbf" d="M1276 982h0"/>
<path stroke="#fceeb0" d="M1370 991h0"/>
<path stroke="#f56b5c" d="M1346 934h0"/>
</g>
<g fill="#000">
<rect x="203.1" y="142.7" width="4.6" height="1162.1"/>
<rect x="203.1" y="1300.2" width="1667.9" height="4.6"/>
<rect x="190.8" y="458.3" width="14.6" height="4.6"/>
<rect x="190.8" y="787.2" width="14.6" height="4.6"/>
<rect x="190.8" y="1116.1" width="14.6" height="4.6"/>
<rect x="467.7" y="1302.5" width="4.6" height="14.6"/>
<rect x="940.2" y="1302.5" width="4.6" height="14.6"/>
<rect x="1412.7" y="1302.5" width="4.6" height="14.6"/>
</g>
<g font-family="'Liberation Sans', Arial, Helvetica, sans-serif" fill="#000">
<text transform="translate(1033.2,100.9) scale(0.9425,1.063)" font-size="66.7" font-weight="bold" text-anchor="middle">REPS1</text>
<g font-size="50" text-anchor="end">
<text transform="translate(177.2,479.90000000000003) scale(0.97,1.05)">10</text>
<text transform="translate(177.2,808.8) scale(0.97,1.05)">5</text>
<text transform="translate(177.2,1137.7) scale(0.97,1.05)">0</text>
</g>
<g font-size="50" text-anchor="middle">
<text transform="translate(470,1366.8) scale(0.97,1.05)">0</text>
<text transform="translate(942.5,1366.8) scale(0.97,1.05)">5</text>
<text transform="translate(1415,1366.8) scale(0.97,1.05)">10</text>
</g>
<text transform="translate(1033.5,1435) scale(0.952,1.072)" font-size="58.3" text-anchor="middle">UMAP_1</text>
<text transform="translate(95.1,722.6) rotate(-90) scale(1.0,1.072)" font-size="58.3" text-anchor="middle">UMAP_2</text>
<g font-size="50">
<text transform="translate(2021.5,916.6) scale(0.97,1.05)">0</text>
<text transform="translate(2021.5,812.1) scale(0.97,1.05)">1</text>
<text transform="translate(2021.5,707.6) scale(0.97,1.05)">2</text>
<text transform="translate(2021.5,603.1) scale(0.97,1.05)">3</text>
</g>
</g>
<rect x="1926.6" y="578" width="64.6" height="318.9" fill="url(#cb)"/>
<g fill="#fff">
<rect x="1926.6" y="582.4" width="12.9" height="2"/><rect x="1978.3" y="582.4" width="12.9" height="2"/>
<rect x="1926.6" y="686.9" width="12.9" height="2"/><rect x="1978.3" y="686.9" width="12.9" height="2"/>
<rect x="1926.6" y="791.4" width="12.9" height="2"/><rect x="1978.3" y="791.4" width="12.9" height="2"/>
<rect x="1926.6" y="895.9" width="12.9" height="2"/><rect x="1978.3" y="895.9" width="12.9" height="2"/>
</g>
</svg>
</body></html>
